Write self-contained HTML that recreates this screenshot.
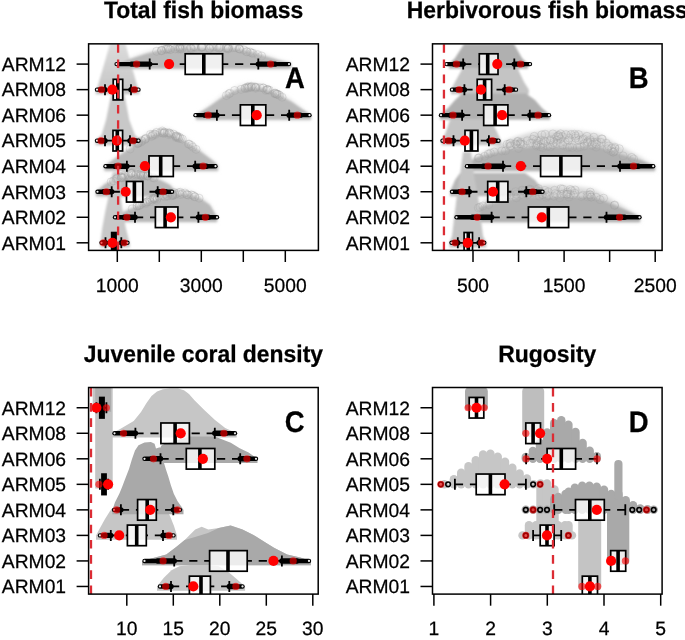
<!DOCTYPE html><html><head><meta charset="utf-8"><style>
html,body{margin:0;padding:0;background:#fff;width:685px;height:640px;overflow:hidden}
svg{display:block;will-change:transform}
text{font-family:"Liberation Sans",sans-serif;fill:#000;stroke:#000;stroke-width:0.25px;text-rendering:geometricPrecision}
.lab{font-size:19.3px}
.ttl{font-size:22.9px;font-weight:bold}
.let{font-size:27.5px;font-weight:bold}
</style></head><body>
<svg width="685" height="640" viewBox="0 0 685 640">
<defs><linearGradient id="gA8" gradientUnits="userSpaceOnUse" x1="0" y1="44" x2="0" y2="95"><stop offset="0" stop-color="#dcdcdc"/><stop offset="1" stop-color="#c4c4c4"/></linearGradient><filter id="blF" x="-20%" y="-20%" width="140%" height="140%"><feGaussianBlur stdDeviation="2.2"/></filter><filter id="blC" x="-20%" y="-20%" width="140%" height="140%"><feGaussianBlur stdDeviation="1.0"/></filter><filter id="blR" x="-20%" y="-20%" width="140%" height="140%"><feGaussianBlur stdDeviation="0.5"/></filter></defs>
<rect width="685" height="640" fill="#fff"/>
<clipPath id="clipA"><rect x="88.60" y="43.85" width="229.80" height="206.55"/></clipPath>
<g clip-path="url(#clipA)">
<g filter="url(#blF)">
<path d="M118.0,64.0 L122.3,62.0 L126.7,59.9 L131.0,57.9 L135.3,56.1 L139.6,54.4 L143.9,52.6 L148.3,51.0 L152.6,49.5 L156.9,48.0 L161.2,46.7 L165.6,45.8 L169.9,45.0 L174.2,44.2 L178.6,43.9 L182.9,43.7 L187.2,43.5 L191.5,43.4 L195.8,43.3 L200.2,43.2 L204.5,43.2 L208.8,43.2 L213.2,43.3 L217.5,43.4 L221.8,43.5 L226.1,43.7 L230.4,43.9 L234.8,44.1 L239.1,45.3 L243.4,46.6 L247.8,47.8 L252.1,49.3 L256.4,50.9 L260.7,52.6 L265.1,54.2 L269.4,55.9 L273.7,57.5 L278.0,59.2 L282.4,60.6 L286.7,61.8 L291.0,63.0 L291.0,68.9 L118.0,68.9 Z" fill="#e8e8e8"/>
<path d="M196.0,115.0 L198.9,113.0 L201.8,110.9 L204.6,108.9 L207.5,106.7 L210.4,104.6 L213.2,102.2 L216.1,99.9 L219.0,97.6 L221.9,95.2 L224.8,93.1 L227.6,91.4 L230.5,89.7 L233.4,88.1 L236.2,86.4 L239.1,85.4 L242.0,84.7 L244.9,84.0 L247.8,83.3 L250.6,83.1 L253.5,83.3 L256.4,83.6 L259.2,83.9 L262.1,84.2 L265.0,85.4 L267.9,86.6 L270.8,87.8 L273.6,89.1 L276.5,90.4 L279.4,92.0 L282.2,93.9 L285.1,95.8 L288.0,97.7 L290.9,99.6 L293.8,101.8 L296.6,104.1 L299.5,106.4 L302.4,108.6 L305.2,110.8 L308.1,112.9 L311.0,115.0 L311.0,120.0 L196.0,120.0 Z" fill="#e8e8e8"/>
<path d="M104.4,166.0 L107.2,163.8 L110.1,161.5 L112.9,159.2 L115.8,156.9 L118.6,154.6 L121.4,152.2 L124.3,150.0 L127.1,147.7 L130.0,145.5 L132.8,143.3 L135.6,141.1 L138.5,139.1 L141.3,137.1 L144.2,135.2 L147.0,133.3 L149.8,131.4 L152.7,130.2 L155.5,129.1 L158.4,128.1 L161.2,127.7 L164.0,128.1 L166.9,128.6 L169.7,129.1 L172.6,130.5 L175.4,132.0 L178.2,133.5 L181.1,135.1 L183.9,136.7 L186.8,138.7 L189.6,140.9 L192.4,143.1 L195.3,145.3 L198.1,147.6 L201.0,149.9 L203.8,152.4 L206.6,155.0 L209.5,157.4 L212.3,159.9 L215.2,162.6 L218.0,166.0 L218.0,171.0 L104.4,171.0 Z" fill="#e8e8e8"/>
<path d="M96.0,191.8 L98.0,189.9 L100.0,187.9 L102.0,185.8 L104.0,183.8 L106.0,182.1 L108.0,180.8 L110.0,179.5 L112.0,178.3 L114.0,177.0 L116.0,175.7 L118.0,174.5 L120.0,173.7 L122.0,172.9 L124.0,172.2 L126.0,171.5 L128.0,170.8 L130.0,170.2 L132.0,169.6 L134.0,169.7 L136.0,169.8 L138.0,170.0 L140.0,170.2 L142.0,170.4 L144.0,170.7 L146.0,171.3 L148.0,172.1 L150.0,172.9 L152.0,173.8 L154.0,174.7 L156.0,175.6 L158.0,176.5 L160.0,177.5 L162.0,178.8 L164.0,180.2 L166.0,181.6 L168.0,182.9 L170.0,184.2 L172.0,186.8 L174.0,189.4 L176.0,191.8 L176.0,196.6 L96.0,196.6 Z" fill="#e8e8e8"/>
<path d="M114.0,217.0 L116.6,215.5 L119.2,213.9 L121.7,212.2 L124.3,210.5 L126.9,208.8 L129.4,207.1 L132.0,205.6 L134.6,204.2 L137.2,202.7 L139.8,201.3 L142.3,199.9 L144.9,198.5 L147.5,197.3 L150.1,196.2 L152.6,195.0 L155.2,194.0 L157.8,193.0 L160.3,192.0 L162.9,191.3 L165.5,190.7 L168.1,190.1 L170.7,189.6 L173.2,189.1 L175.8,188.8 L178.4,189.0 L180.9,189.1 L183.5,189.3 L186.1,189.5 L188.7,190.0 L191.2,191.3 L193.8,192.5 L196.4,193.8 L199.0,195.1 L201.6,196.9 L204.1,199.2 L206.7,201.4 L209.3,203.6 L211.8,207.6 L214.4,212.4 L217.0,217.0 L217.0,222.1 L114.0,222.1 Z" fill="#e8e8e8"/>
</g><g filter="url(#blC)">
<path d="M95.5,94.0 L109.9,43.9 L125.5,43.9 L139.5,94.0 L139.5,94.2 L95.5,94.2 Z" fill="url(#gA8)"/>
<path d="M118.0,64.0 L130.0,59.0 L145.0,54.0 L160.0,50.0 L175.0,48.2 L235.0,48.2 L250.0,51.5 L265.0,56.0 L280.0,60.5 L291.0,63.0 L291.0,68.7 L118.0,68.7 Z" fill="#b9b9b9"/>
<path d="M95.5,140.0 L101.5,135.0 L106.0,120.0 L110.0,100.0 L113.0,88.0 L123.0,88.0 L125.5,100.0 L129.3,120.0 L135.0,135.0 L141.0,140.0 L141.0,145.3 L95.5,145.3 Z" fill="#c8c8c8"/>
<path d="M196.0,115.0 L210.0,106.0 L224.0,96.0 L237.0,89.5 L249.0,87.0 L262.0,88.0 L278.0,94.0 L292.0,102.0 L302.0,109.0 L311.0,115.0 L311.0,119.8 L196.0,119.8 Z" fill="#b9b9b9"/>
<path d="M104.4,166.0 L120.0,155.0 L135.0,145.0 L150.0,136.0 L160.0,132.5 L170.0,134.0 L185.0,141.0 L200.0,151.0 L214.5,162.0 L218.0,166.0 L218.0,170.8 L104.4,170.8 Z" fill="#b9b9b9"/>
<path d="M96.0,191.8 L105.0,184.0 L118.0,178.0 L132.0,174.5 L145.0,175.5 L160.0,180.0 L170.0,185.0 L176.0,191.8 L176.0,196.3 L96.0,196.3 Z" fill="#b9b9b9"/>
<path d="M114.0,217.0 L130.0,209.0 L145.0,203.0 L160.0,198.0 L175.0,194.5 L188.0,194.0 L200.0,198.0 L210.0,205.0 L217.0,217.0 L217.0,221.9 L114.0,221.9 Z" fill="#b9b9b9"/>
<path d="M100.2,244.0 L102.3,227.7 L105.3,211.3 L108.4,197.0 L111.0,180.0 L113.0,172.0 L119.0,172.0 L120.7,180.0 L120.7,197.0 L122.7,211.3 L125.8,227.7 L129.9,244.0 L129.9,247.4 L100.2,247.4 Z" fill="#c8c8c8"/>
</g>
<g fill="none" stroke="rgba(160,160,160,0.30)" stroke-width="1.0" filter="url(#blR)">
<circle cx="219.4" cy="47.8" r="4.0"/>
<circle cx="191.4" cy="48.8" r="4.0"/>
<circle cx="161.6" cy="50.8" r="4.0"/>
<circle cx="239.1" cy="48.7" r="4.0"/>
<circle cx="202.0" cy="46.9" r="4.0"/>
<circle cx="261.7" cy="56.0" r="4.0"/>
<circle cx="169.7" cy="49.5" r="4.0"/>
<circle cx="236.1" cy="47.6" r="4.0"/>
<circle cx="170.5" cy="49.6" r="4.0"/>
<circle cx="239.8" cy="49.2" r="4.0"/>
<circle cx="168.3" cy="48.8" r="4.0"/>
<circle cx="166.6" cy="49.3" r="4.0"/>
<circle cx="209.6" cy="48.2" r="4.0"/>
<circle cx="190.9" cy="47.5" r="4.0"/>
<circle cx="228.1" cy="48.8" r="4.0"/>
<circle cx="213.3" cy="46.8" r="4.0"/>
<circle cx="226.1" cy="48.0" r="4.0"/>
<circle cx="239.3" cy="48.8" r="4.0"/>
<circle cx="180.5" cy="47.3" r="4.0"/>
<circle cx="243.6" cy="49.8" r="4.0"/>
<circle cx="166.3" cy="49.0" r="4.0"/>
<circle cx="251.6" cy="53.0" r="4.0"/>
<circle cx="257.8" cy="54.7" r="4.0"/>
<circle cx="182.6" cy="47.3" r="4.0"/>
<circle cx="232.6" cy="47.6" r="4.0"/>
<circle cx="179.5" cy="47.0" r="4.0"/>
<circle cx="186.8" cy="48.7" r="4.0"/>
<circle cx="247.2" cy="51.8" r="4.0"/>
<circle cx="201.6" cy="47.0" r="4.0"/>
<circle cx="156.6" cy="51.3" r="4.0"/>
<circle cx="175.4" cy="49.0" r="4.0"/>
<circle cx="226.9" cy="48.2" r="4.0"/>
<circle cx="246.4" cy="51.7" r="4.0"/>
<circle cx="216.9" cy="47.1" r="4.0"/>
<circle cx="201.4" cy="47.4" r="4.0"/>
<circle cx="202.4" cy="46.8" r="4.0"/>
<circle cx="178.1" cy="49.1" r="4.0"/>
<circle cx="181.9" cy="49.0" r="4.0"/>
<circle cx="190.3" cy="48.4" r="4.0"/>
<circle cx="164.7" cy="49.4" r="4.0"/>
<circle cx="228.4" cy="47.8" r="4.0"/>
<circle cx="180.1" cy="49.1" r="4.0"/>
<circle cx="193.7" cy="46.9" r="4.0"/>
<circle cx="211.0" cy="46.5" r="4.0"/>
<circle cx="228.2" cy="48.7" r="4.0"/>
<circle cx="177.7" cy="47.2" r="4.0"/>
<circle cx="179.7" cy="47.8" r="4.0"/>
<circle cx="220.3" cy="47.2" r="4.0"/>
<circle cx="168.2" cy="48.7" r="4.0"/>
<circle cx="180.1" cy="48.6" r="4.0"/>
<circle cx="249.9" cy="52.0" r="4.0"/>
<circle cx="161.5" cy="50.2" r="4.0"/>
<circle cx="161.5" cy="50.7" r="4.0"/>
<circle cx="195.6" cy="47.3" r="4.0"/>
<circle cx="218.8" cy="48.0" r="4.0"/>
<circle cx="209.3" cy="48.8" r="4.0"/>
<circle cx="194.2" cy="46.6" r="4.0"/>
<circle cx="253.0" cy="53.3" r="4.0"/>
<circle cx="234.7" cy="47.7" r="4.0"/>
<circle cx="275.2" cy="93.6" r="4.0"/>
<circle cx="247.9" cy="88.2" r="4.0"/>
<circle cx="248.9" cy="86.7" r="4.0"/>
<circle cx="260.0" cy="87.7" r="4.0"/>
<circle cx="277.3" cy="94.1" r="4.0"/>
<circle cx="245.1" cy="88.6" r="4.0"/>
<circle cx="255.4" cy="88.3" r="4.0"/>
<circle cx="255.5" cy="87.2" r="4.0"/>
<circle cx="226.4" cy="95.5" r="4.0"/>
<circle cx="275.0" cy="93.0" r="4.0"/>
<circle cx="254.8" cy="87.0" r="4.0"/>
<circle cx="230.0" cy="93.2" r="4.0"/>
<circle cx="279.7" cy="95.5" r="4.0"/>
<circle cx="245.0" cy="88.0" r="4.0"/>
<circle cx="246.6" cy="87.9" r="4.0"/>
<circle cx="228.9" cy="93.8" r="4.0"/>
<circle cx="274.6" cy="93.5" r="4.0"/>
<circle cx="251.8" cy="86.3" r="4.0"/>
<circle cx="250.9" cy="87.2" r="4.0"/>
<circle cx="262.9" cy="87.9" r="4.0"/>
<circle cx="268.0" cy="89.8" r="4.0"/>
<circle cx="241.0" cy="89.4" r="4.0"/>
<circle cx="267.1" cy="89.4" r="4.0"/>
<circle cx="263.4" cy="88.0" r="4.0"/>
<circle cx="265.9" cy="90.4" r="4.0"/>
<circle cx="247.4" cy="86.9" r="4.0"/>
<circle cx="267.2" cy="89.7" r="4.0"/>
<circle cx="276.7" cy="94.3" r="4.0"/>
<circle cx="256.2" cy="87.3" r="4.0"/>
<circle cx="269.3" cy="90.2" r="4.0"/>
<circle cx="249.0" cy="87.4" r="4.0"/>
<circle cx="278.6" cy="94.7" r="4.0"/>
<circle cx="276.6" cy="93.9" r="4.0"/>
<circle cx="282.1" cy="97.2" r="4.0"/>
<circle cx="251.2" cy="87.0" r="4.0"/>
<circle cx="234.6" cy="90.5" r="4.0"/>
<circle cx="138.0" cy="143.3" r="4.0"/>
<circle cx="179.3" cy="137.2" r="4.0"/>
<circle cx="152.6" cy="135.8" r="4.0"/>
<circle cx="154.6" cy="134.0" r="4.0"/>
<circle cx="188.4" cy="144.1" r="4.0"/>
<circle cx="141.5" cy="140.6" r="4.0"/>
<circle cx="175.6" cy="136.0" r="4.0"/>
<circle cx="173.5" cy="134.1" r="4.0"/>
<circle cx="151.2" cy="136.5" r="4.0"/>
<circle cx="168.4" cy="134.5" r="4.0"/>
<circle cx="152.7" cy="134.6" r="4.0"/>
<circle cx="156.5" cy="132.4" r="4.0"/>
<circle cx="138.7" cy="142.9" r="4.0"/>
<circle cx="191.4" cy="145.5" r="4.0"/>
<circle cx="177.4" cy="136.7" r="4.0"/>
<circle cx="169.5" cy="133.0" r="4.0"/>
<circle cx="155.4" cy="134.5" r="4.0"/>
<circle cx="177.6" cy="137.3" r="4.0"/>
<circle cx="160.2" cy="132.6" r="4.0"/>
<circle cx="164.0" cy="132.1" r="4.0"/>
<circle cx="189.3" cy="144.2" r="4.0"/>
<circle cx="150.4" cy="134.4" r="4.0"/>
<circle cx="130.1" cy="149.0" r="4.0"/>
<circle cx="196.1" cy="149.4" r="4.0"/>
<circle cx="175.9" cy="136.4" r="4.0"/>
<circle cx="164.8" cy="132.5" r="4.0"/>
<circle cx="170.7" cy="134.3" r="4.0"/>
<circle cx="180.4" cy="138.4" r="4.0"/>
<circle cx="137.7" cy="143.3" r="4.0"/>
<circle cx="164.2" cy="133.2" r="4.0"/>
<circle cx="176.8" cy="135.9" r="4.0"/>
<circle cx="141.8" cy="141.4" r="4.0"/>
<circle cx="145.9" cy="138.3" r="4.0"/>
<circle cx="163.3" cy="133.3" r="4.0"/>
<circle cx="137.1" cy="143.8" r="4.0"/>
<circle cx="192.9" cy="147.2" r="4.0"/>
<circle cx="138.6" cy="142.2" r="4.0"/>
<circle cx="182.3" cy="139.0" r="4.0"/>
<circle cx="162.3" cy="131.0" r="4.0"/>
<circle cx="144.9" cy="139.6" r="4.0"/>
<circle cx="178.4" cy="138.4" r="4.0"/>
<circle cx="145.3" cy="138.9" r="4.0"/>
<circle cx="167.5" cy="132.9" r="4.0"/>
<circle cx="169.2" cy="133.0" r="4.0"/>
<circle cx="140.6" cy="142.3" r="4.0"/>
<circle cx="162.3" cy="132.8" r="4.0"/>
<circle cx="176.1" cy="137.6" r="4.0"/>
<circle cx="111.1" cy="181.9" r="4.0"/>
<circle cx="147.9" cy="175.9" r="4.0"/>
<circle cx="113.5" cy="180.9" r="4.0"/>
<circle cx="147.3" cy="175.9" r="4.0"/>
<circle cx="152.9" cy="177.7" r="4.0"/>
<circle cx="142.8" cy="175.6" r="4.0"/>
<circle cx="131.3" cy="173.1" r="4.0"/>
<circle cx="121.2" cy="178.0" r="4.0"/>
<circle cx="117.3" cy="178.4" r="4.0"/>
<circle cx="124.2" cy="177.1" r="4.0"/>
<circle cx="135.9" cy="175.2" r="4.0"/>
<circle cx="128.1" cy="175.5" r="4.0"/>
<circle cx="140.3" cy="175.4" r="4.0"/>
<circle cx="136.0" cy="174.0" r="4.0"/>
<circle cx="116.1" cy="178.8" r="4.0"/>
<circle cx="141.3" cy="175.3" r="4.0"/>
<circle cx="140.7" cy="174.3" r="4.0"/>
<circle cx="122.4" cy="177.7" r="4.0"/>
<circle cx="143.7" cy="176.4" r="4.0"/>
<circle cx="138.1" cy="174.6" r="4.0"/>
<circle cx="141.2" cy="175.5" r="4.0"/>
<circle cx="154.2" cy="178.1" r="4.0"/>
<circle cx="140.8" cy="173.4" r="4.0"/>
<circle cx="132.5" cy="172.9" r="4.0"/>
<circle cx="144.1" cy="174.2" r="4.0"/>
<circle cx="122.9" cy="177.7" r="4.0"/>
<circle cx="121.5" cy="177.3" r="4.0"/>
<circle cx="122.7" cy="175.8" r="4.0"/>
<circle cx="131.1" cy="173.5" r="4.0"/>
<circle cx="147.6" cy="176.2" r="4.0"/>
<circle cx="147.8" cy="175.4" r="4.0"/>
<circle cx="132.5" cy="175.2" r="4.0"/>
<circle cx="125.2" cy="175.4" r="4.0"/>
<circle cx="131.2" cy="173.4" r="4.0"/>
<circle cx="143.2" cy="175.6" r="4.0"/>
<circle cx="121.5" cy="177.8" r="4.0"/>
<circle cx="121.6" cy="176.9" r="4.0"/>
<circle cx="145.8" cy="175.8" r="4.0"/>
<circle cx="139.0" cy="205.8" r="4.0"/>
<circle cx="154.7" cy="199.4" r="4.0"/>
<circle cx="145.0" cy="202.6" r="4.0"/>
<circle cx="172.4" cy="194.2" r="4.0"/>
<circle cx="132.2" cy="208.8" r="4.0"/>
<circle cx="173.3" cy="194.3" r="4.0"/>
<circle cx="137.2" cy="205.7" r="4.0"/>
<circle cx="180.3" cy="192.3" r="4.0"/>
<circle cx="158.6" cy="196.0" r="4.0"/>
<circle cx="140.6" cy="204.6" r="4.0"/>
<circle cx="152.4" cy="199.8" r="4.0"/>
<circle cx="167.2" cy="196.3" r="4.0"/>
<circle cx="142.4" cy="203.2" r="4.0"/>
<circle cx="137.1" cy="206.1" r="4.0"/>
<circle cx="139.4" cy="205.3" r="4.0"/>
<circle cx="147.6" cy="201.9" r="4.0"/>
<circle cx="164.7" cy="196.7" r="4.0"/>
<circle cx="162.9" cy="195.8" r="4.0"/>
<circle cx="169.8" cy="192.8" r="4.0"/>
<circle cx="182.5" cy="194.0" r="4.0"/>
<circle cx="155.5" cy="197.8" r="4.0"/>
<circle cx="153.4" cy="198.2" r="4.0"/>
<circle cx="154.4" cy="198.8" r="4.0"/>
<circle cx="176.7" cy="193.7" r="4.0"/>
<circle cx="194.9" cy="196.8" r="4.0"/>
<circle cx="167.3" cy="195.7" r="4.0"/>
<circle cx="165.1" cy="194.0" r="4.0"/>
<circle cx="191.4" cy="194.9" r="4.0"/>
<circle cx="150.3" cy="201.7" r="4.0"/>
<circle cx="156.6" cy="200.1" r="4.0"/>
<circle cx="172.9" cy="195.4" r="4.0"/>
<circle cx="145.9" cy="203.6" r="4.0"/>
<circle cx="172.5" cy="195.1" r="4.0"/>
<circle cx="185.0" cy="193.0" r="4.0"/>
<circle cx="146.8" cy="202.0" r="4.0"/>
<circle cx="174.2" cy="192.4" r="4.0"/>
<circle cx="172.7" cy="195.5" r="4.0"/>
<circle cx="188.5" cy="195.2" r="4.0"/>
<circle cx="171.4" cy="195.8" r="4.0"/>
<circle cx="174.8" cy="194.9" r="4.0"/>
<circle cx="194.6" cy="196.7" r="4.0"/>
<circle cx="186.6" cy="194.6" r="4.0"/>
<circle cx="149.7" cy="200.1" r="4.0"/>
<circle cx="178.8" cy="192.7" r="4.0"/>
<circle cx="153.0" cy="198.4" r="4.0"/>
<circle cx="157.2" cy="198.5" r="4.0"/>
<circle cx="180.1" cy="194.6" r="4.0"/>
<circle cx="193.0" cy="195.4" r="4.0"/>
<circle cx="175.1" cy="193.9" r="4.0"/>
<circle cx="187.1" cy="194.7" r="4.0"/>
<circle cx="154.2" cy="198.2" r="4.0"/>
<circle cx="199.1" cy="198.2" r="4.0"/>
</g>
<line x1="149.7" y1="64.10" x2="185.2" y2="64.10" stroke="#000" stroke-width="1.8" stroke-dasharray="8.2 6.8"/>
<line x1="149.7" y1="58.60" x2="149.7" y2="69.60" stroke="#000" stroke-width="1.8"/>
<line x1="258.3" y1="64.10" x2="222.6" y2="64.10" stroke="#000" stroke-width="1.8" stroke-dasharray="8.2 6.8"/>
<line x1="258.3" y1="58.60" x2="258.3" y2="69.60" stroke="#000" stroke-width="1.8"/>
<line x1="131.5" y1="64.10" x2="149.7" y2="64.10" stroke="#000" stroke-width="5.4" stroke-linecap="round"/>
<line x1="116.6" y1="64.10" x2="131.5" y2="64.10" stroke="#000" stroke-width="4.4" stroke-linecap="round"/>
<circle cx="116.6" cy="64.10" r="1.1" fill="#eee"/>
<line x1="275.2" y1="64.10" x2="258.3" y2="64.10" stroke="#000" stroke-width="5.4" stroke-linecap="round"/>
<line x1="289.0" y1="64.10" x2="275.2" y2="64.10" stroke="#000" stroke-width="4.4" stroke-linecap="round"/>
<circle cx="289.0" cy="64.10" r="1.1" fill="#eee"/>
<rect x="185.2" y="53.80" width="37.4" height="20.60" fill="rgba(255,255,255,0.78)" stroke="#000" stroke-width="1.7"/>
<line x1="203.8" y1="53.80" x2="203.8" y2="74.40" stroke="#000" stroke-width="3.6"/>
<circle cx="136.6" cy="64.10" r="3.6" fill="rgba(255,0,0,0.62)"/>
<circle cx="270.6" cy="64.10" r="3.6" fill="rgba(255,0,0,0.62)"/>
<circle cx="169.1" cy="64.10" r="5.1" fill="#ff0000"/>
<line x1="105.0" y1="89.63" x2="113.2" y2="89.63" stroke="#000" stroke-width="1.8" stroke-dasharray="8.2 6.8"/>
<line x1="105.0" y1="84.13" x2="105.0" y2="95.13" stroke="#000" stroke-width="1.8"/>
<line x1="131.0" y1="89.63" x2="122.7" y2="89.63" stroke="#000" stroke-width="1.8" stroke-dasharray="8.2 6.8"/>
<line x1="131.0" y1="84.13" x2="131.0" y2="95.13" stroke="#000" stroke-width="1.8"/>
<line x1="100.6" y1="89.63" x2="105.0" y2="89.63" stroke="#000" stroke-width="5.4" stroke-linecap="round"/>
<line x1="97.0" y1="89.63" x2="100.6" y2="89.63" stroke="#000" stroke-width="4.4" stroke-linecap="round"/>
<circle cx="97.0" cy="89.63" r="1.1" fill="#eee"/>
<line x1="135.1" y1="89.63" x2="131.0" y2="89.63" stroke="#000" stroke-width="5.4" stroke-linecap="round"/>
<line x1="138.5" y1="89.63" x2="135.1" y2="89.63" stroke="#000" stroke-width="4.4" stroke-linecap="round"/>
<circle cx="138.5" cy="89.63" r="1.1" fill="#eee"/>
<rect x="113.2" y="79.33" width="9.5" height="20.60" fill="rgba(255,255,255,0.78)" stroke="#000" stroke-width="1.7"/>
<line x1="117.8" y1="79.33" x2="117.8" y2="99.93" stroke="#000" stroke-width="3.6"/>
<circle cx="101.5" cy="89.63" r="3.6" fill="rgba(255,0,0,0.62)"/>
<circle cx="134.3" cy="89.63" r="3.6" fill="rgba(255,0,0,0.62)"/>
<circle cx="112.4" cy="89.63" r="5.1" fill="#ff0000"/>
<line x1="216.9" y1="115.16" x2="240.4" y2="115.16" stroke="#000" stroke-width="1.8" stroke-dasharray="8.2 6.8"/>
<line x1="216.9" y1="109.66" x2="216.9" y2="120.66" stroke="#000" stroke-width="1.8"/>
<line x1="289.2" y1="115.16" x2="265.8" y2="115.16" stroke="#000" stroke-width="1.8" stroke-dasharray="8.2 6.8"/>
<line x1="289.2" y1="109.66" x2="289.2" y2="120.66" stroke="#000" stroke-width="1.8"/>
<line x1="205.1" y1="115.16" x2="216.9" y2="115.16" stroke="#000" stroke-width="5.4" stroke-linecap="round"/>
<line x1="195.5" y1="115.16" x2="205.1" y2="115.16" stroke="#000" stroke-width="4.4" stroke-linecap="round"/>
<circle cx="195.5" cy="115.16" r="1.1" fill="#eee"/>
<line x1="300.4" y1="115.16" x2="289.2" y2="115.16" stroke="#000" stroke-width="5.4" stroke-linecap="round"/>
<line x1="309.5" y1="115.16" x2="300.4" y2="115.16" stroke="#000" stroke-width="4.4" stroke-linecap="round"/>
<circle cx="309.5" cy="115.16" r="1.1" fill="#eee"/>
<rect x="240.4" y="104.86" width="25.4" height="20.60" fill="rgba(255,255,255,0.78)" stroke="#000" stroke-width="1.7"/>
<line x1="252.8" y1="104.86" x2="252.8" y2="125.46" stroke="#000" stroke-width="3.6"/>
<circle cx="208.2" cy="115.16" r="3.6" fill="rgba(255,0,0,0.62)"/>
<circle cx="297.3" cy="115.16" r="3.6" fill="rgba(255,0,0,0.62)"/>
<circle cx="256.7" cy="115.16" r="5.1" fill="#ff0000"/>
<line x1="105.0" y1="140.69" x2="113.0" y2="140.69" stroke="#000" stroke-width="1.8" stroke-dasharray="8.2 6.8"/>
<line x1="105.0" y1="135.19" x2="105.0" y2="146.19" stroke="#000" stroke-width="1.8"/>
<line x1="130.0" y1="140.69" x2="122.6" y2="140.69" stroke="#000" stroke-width="1.8" stroke-dasharray="8.2 6.8"/>
<line x1="130.0" y1="135.19" x2="130.0" y2="146.19" stroke="#000" stroke-width="1.8"/>
<line x1="100.6" y1="140.69" x2="105.0" y2="140.69" stroke="#000" stroke-width="5.4" stroke-linecap="round"/>
<line x1="97.0" y1="140.69" x2="100.6" y2="140.69" stroke="#000" stroke-width="4.4" stroke-linecap="round"/>
<circle cx="97.0" cy="140.69" r="1.1" fill="#eee"/>
<line x1="134.7" y1="140.69" x2="130.0" y2="140.69" stroke="#000" stroke-width="5.4" stroke-linecap="round"/>
<line x1="138.5" y1="140.69" x2="134.7" y2="140.69" stroke="#000" stroke-width="4.4" stroke-linecap="round"/>
<circle cx="138.5" cy="140.69" r="1.1" fill="#eee"/>
<rect x="113.0" y="130.39" width="9.6" height="20.60" fill="rgba(255,255,255,0.78)" stroke="#000" stroke-width="1.7"/>
<line x1="117.3" y1="130.39" x2="117.3" y2="150.99" stroke="#000" stroke-width="3.6"/>
<circle cx="101.0" cy="140.69" r="3.6" fill="rgba(255,0,0,0.62)"/>
<circle cx="133.0" cy="140.69" r="3.6" fill="rgba(255,0,0,0.62)"/>
<circle cx="116.9" cy="140.69" r="5.1" fill="#ff0000"/>
<line x1="126.9" y1="166.22" x2="149.0" y2="166.22" stroke="#000" stroke-width="1.8" stroke-dasharray="8.2 6.8"/>
<line x1="126.9" y1="160.72" x2="126.9" y2="171.72" stroke="#000" stroke-width="1.8"/>
<line x1="195.2" y1="166.22" x2="173.3" y2="166.22" stroke="#000" stroke-width="1.8" stroke-dasharray="8.2 6.8"/>
<line x1="195.2" y1="160.72" x2="195.2" y2="171.72" stroke="#000" stroke-width="1.8"/>
<line x1="115.1" y1="166.22" x2="126.9" y2="166.22" stroke="#000" stroke-width="5.4" stroke-linecap="round"/>
<line x1="105.5" y1="166.22" x2="115.1" y2="166.22" stroke="#000" stroke-width="4.4" stroke-linecap="round"/>
<circle cx="105.5" cy="166.22" r="1.1" fill="#eee"/>
<line x1="206.4" y1="166.22" x2="195.2" y2="166.22" stroke="#000" stroke-width="5.4" stroke-linecap="round"/>
<line x1="215.5" y1="166.22" x2="206.4" y2="166.22" stroke="#000" stroke-width="4.4" stroke-linecap="round"/>
<circle cx="215.5" cy="166.22" r="1.1" fill="#eee"/>
<rect x="149.0" y="155.92" width="24.3" height="20.60" fill="rgba(255,255,255,0.78)" stroke="#000" stroke-width="1.7"/>
<line x1="160.7" y1="155.92" x2="160.7" y2="176.52" stroke="#000" stroke-width="3.6"/>
<circle cx="118.1" cy="166.22" r="3.6" fill="rgba(255,0,0,0.62)"/>
<circle cx="203.1" cy="166.22" r="3.6" fill="rgba(255,0,0,0.62)"/>
<circle cx="144.9" cy="166.22" r="5.1" fill="#ff0000"/>
<line x1="111.7" y1="191.75" x2="126.5" y2="191.75" stroke="#000" stroke-width="1.8" stroke-dasharray="8.2 6.8"/>
<line x1="111.7" y1="186.25" x2="111.7" y2="197.25" stroke="#000" stroke-width="1.8"/>
<line x1="157.7" y1="191.75" x2="142.8" y2="191.75" stroke="#000" stroke-width="1.8" stroke-dasharray="8.2 6.8"/>
<line x1="157.7" y1="186.25" x2="157.7" y2="197.25" stroke="#000" stroke-width="1.8"/>
<line x1="103.9" y1="191.75" x2="111.7" y2="191.75" stroke="#000" stroke-width="5.4" stroke-linecap="round"/>
<line x1="97.5" y1="191.75" x2="103.9" y2="191.75" stroke="#000" stroke-width="4.4" stroke-linecap="round"/>
<circle cx="97.5" cy="191.75" r="1.1" fill="#eee"/>
<line x1="165.6" y1="191.75" x2="157.7" y2="191.75" stroke="#000" stroke-width="5.4" stroke-linecap="round"/>
<line x1="172.0" y1="191.75" x2="165.6" y2="191.75" stroke="#000" stroke-width="4.4" stroke-linecap="round"/>
<circle cx="172.0" cy="191.75" r="1.1" fill="#eee"/>
<rect x="126.5" y="181.45" width="16.3" height="20.60" fill="rgba(255,255,255,0.78)" stroke="#000" stroke-width="1.7"/>
<line x1="134.4" y1="181.45" x2="134.4" y2="202.05" stroke="#000" stroke-width="3.6"/>
<circle cx="106.4" cy="191.75" r="3.6" fill="rgba(255,0,0,0.62)"/>
<circle cx="163.0" cy="191.75" r="3.6" fill="rgba(255,0,0,0.62)"/>
<circle cx="125.7" cy="191.75" r="5.1" fill="#ff0000"/>
<line x1="135.0" y1="217.28" x2="155.4" y2="217.28" stroke="#000" stroke-width="1.8" stroke-dasharray="8.2 6.8"/>
<line x1="135.0" y1="211.78" x2="135.0" y2="222.78" stroke="#000" stroke-width="1.8"/>
<line x1="198.4" y1="217.28" x2="177.9" y2="217.28" stroke="#000" stroke-width="1.8" stroke-dasharray="8.2 6.8"/>
<line x1="198.4" y1="211.78" x2="198.4" y2="222.78" stroke="#000" stroke-width="1.8"/>
<line x1="124.0" y1="217.28" x2="135.0" y2="217.28" stroke="#000" stroke-width="5.4" stroke-linecap="round"/>
<line x1="115.0" y1="217.28" x2="124.0" y2="217.28" stroke="#000" stroke-width="4.4" stroke-linecap="round"/>
<circle cx="115.0" cy="217.28" r="1.1" fill="#eee"/>
<line x1="208.6" y1="217.28" x2="198.4" y2="217.28" stroke="#000" stroke-width="5.4" stroke-linecap="round"/>
<line x1="217.0" y1="217.28" x2="208.6" y2="217.28" stroke="#000" stroke-width="4.4" stroke-linecap="round"/>
<circle cx="217.0" cy="217.28" r="1.1" fill="#eee"/>
<rect x="155.4" y="206.98" width="22.5" height="20.60" fill="rgba(255,255,255,0.78)" stroke="#000" stroke-width="1.7"/>
<line x1="165.1" y1="206.98" x2="165.1" y2="227.58" stroke="#000" stroke-width="3.6"/>
<circle cx="126.9" cy="217.28" r="3.6" fill="rgba(255,0,0,0.62)"/>
<circle cx="205.4" cy="217.28" r="3.6" fill="rgba(255,0,0,0.62)"/>
<circle cx="170.9" cy="217.28" r="5.1" fill="#ff0000"/>
<line x1="105.5" y1="242.81" x2="110.8" y2="242.81" stroke="#000" stroke-width="1.8" stroke-dasharray="8.2 6.8"/>
<line x1="105.5" y1="237.31" x2="105.5" y2="248.31" stroke="#000" stroke-width="1.8"/>
<line x1="121.3" y1="242.81" x2="116.9" y2="242.81" stroke="#000" stroke-width="1.8" stroke-dasharray="8.2 6.8"/>
<line x1="121.3" y1="237.31" x2="121.3" y2="248.31" stroke="#000" stroke-width="1.8"/>
<line x1="103.3" y1="242.81" x2="105.5" y2="242.81" stroke="#000" stroke-width="5.4" stroke-linecap="round"/>
<line x1="101.5" y1="242.81" x2="103.3" y2="242.81" stroke="#000" stroke-width="4.4" stroke-linecap="round"/>
<circle cx="101.5" cy="242.81" r="1.1" fill="#eee"/>
<line x1="124.7" y1="242.81" x2="121.3" y2="242.81" stroke="#000" stroke-width="5.4" stroke-linecap="round"/>
<line x1="127.5" y1="242.81" x2="124.7" y2="242.81" stroke="#000" stroke-width="4.4" stroke-linecap="round"/>
<circle cx="127.5" cy="242.81" r="1.1" fill="#eee"/>
<rect x="110.8" y="231.71" width="6.1" height="22.20" fill="#000"/>
<circle cx="103.4" cy="242.81" r="3.6" fill="rgba(255,0,0,0.62)"/>
<circle cx="124.3" cy="242.81" r="3.6" fill="rgba(255,0,0,0.62)"/>
<circle cx="112.5" cy="242.81" r="5.1" fill="#ff0000"/>
<line x1="118.10" y1="250.40" x2="118.10" y2="43.85" stroke="#dc2c34" stroke-width="2.3" stroke-dasharray="8.6 6.6"/>
</g>
<rect x="88.60" y="43.85" width="229.80" height="206.55" fill="none" stroke="#000" stroke-width="1.5"/>
<line x1="76.60" y1="64.10" x2="88.60" y2="64.10" stroke="#000" stroke-width="1.5"/>
<text x="66.10" y="70.90" text-anchor="end" class="lab">ARM12</text>
<line x1="76.60" y1="89.63" x2="88.60" y2="89.63" stroke="#000" stroke-width="1.5"/>
<text x="66.10" y="96.43" text-anchor="end" class="lab">ARM08</text>
<line x1="76.60" y1="115.16" x2="88.60" y2="115.16" stroke="#000" stroke-width="1.5"/>
<text x="66.10" y="121.96" text-anchor="end" class="lab">ARM06</text>
<line x1="76.60" y1="140.69" x2="88.60" y2="140.69" stroke="#000" stroke-width="1.5"/>
<text x="66.10" y="147.49" text-anchor="end" class="lab">ARM05</text>
<line x1="76.60" y1="166.22" x2="88.60" y2="166.22" stroke="#000" stroke-width="1.5"/>
<text x="66.10" y="173.02" text-anchor="end" class="lab">ARM04</text>
<line x1="76.60" y1="191.75" x2="88.60" y2="191.75" stroke="#000" stroke-width="1.5"/>
<text x="66.10" y="198.55" text-anchor="end" class="lab">ARM03</text>
<line x1="76.60" y1="217.28" x2="88.60" y2="217.28" stroke="#000" stroke-width="1.5"/>
<text x="66.10" y="224.08" text-anchor="end" class="lab">ARM02</text>
<line x1="76.60" y1="242.81" x2="88.60" y2="242.81" stroke="#000" stroke-width="1.5"/>
<text x="66.10" y="249.61" text-anchor="end" class="lab">ARM01</text>
<line x1="117.30" y1="250.40" x2="117.30" y2="262.00" stroke="#000" stroke-width="1.5"/>
<text x="117.30" y="291.70" text-anchor="middle" class="lab">1000</text>
<line x1="159.30" y1="250.40" x2="159.30" y2="262.00" stroke="#000" stroke-width="1.5"/>
<line x1="201.30" y1="250.40" x2="201.30" y2="262.00" stroke="#000" stroke-width="1.5"/>
<text x="201.30" y="291.70" text-anchor="middle" class="lab">3000</text>
<line x1="243.30" y1="250.40" x2="243.30" y2="262.00" stroke="#000" stroke-width="1.5"/>
<line x1="285.30" y1="250.40" x2="285.30" y2="262.00" stroke="#000" stroke-width="1.5"/>
<text x="285.30" y="291.70" text-anchor="middle" class="lab">5000</text>
<text transform="translate(203.50,18.10) scale(1,1.04)" text-anchor="middle" class="ttl">Total fish biomass</text>
<text transform="translate(304.90,88.15) scale(1,1.08)" text-anchor="end" class="let">A</text>
<clipPath id="clipB"><rect x="432.50" y="43.85" width="229.60" height="206.55"/></clipPath>
<g clip-path="url(#clipB)">
<g filter="url(#blF)">
<path d="M466.0,166.0 L470.7,161.2 L475.4,156.4 L480.2,154.1 L484.9,151.7 L489.6,149.2 L494.4,146.9 L499.1,144.6 L503.8,142.3 L508.5,140.1 L513.2,138.0 L518.0,136.4 L522.7,134.9 L527.4,133.5 L532.1,132.4 L536.9,131.7 L541.6,131.1 L546.3,130.6 L551.0,130.3 L555.8,130.1 L560.5,130.0 L565.2,130.1 L570.0,130.3 L574.7,130.6 L579.4,131.1 L584.1,131.7 L588.9,132.4 L593.6,133.2 L598.3,134.1 L603.0,136.2 L607.8,138.9 L612.5,141.7 L617.2,144.5 L621.9,147.3 L626.6,149.9 L631.4,152.5 L636.1,155.1 L640.8,157.8 L645.5,160.7 L650.3,163.5 L655.0,166.0 L655.0,171.0 L466.0,171.0 Z" fill="#d6d6d6"/>
<path d="M456.0,217.0 L460.6,214.3 L465.2,211.3 L469.8,208.3 L474.4,206.1 L479.0,203.9 L483.6,201.6 L488.2,199.4 L492.8,197.3 L497.4,195.4 L502.0,193.6 L506.6,191.7 L511.2,189.9 L515.8,188.2 L520.4,186.7 L525.0,186.2 L529.6,185.8 L534.2,185.4 L538.8,185.2 L543.4,185.0 L548.0,185.0 L552.6,185.0 L557.2,185.2 L561.8,185.4 L566.4,185.8 L571.0,186.2 L575.6,186.7 L580.2,187.2 L584.8,187.9 L589.4,188.6 L594.0,189.4 L598.6,191.9 L603.2,194.6 L607.8,197.2 L612.4,199.9 L617.0,202.8 L621.6,205.7 L626.2,208.5 L630.8,211.3 L635.4,214.3 L640.0,217.0 L640.0,222.1 L456.0,222.1 Z" fill="#d6d6d6"/>
</g><g filter="url(#blC)">
<path d="M449.0,64.0 L455.0,58.0 L464.0,43.9 L514.0,43.9 L522.0,58.0 L528.0,64.0 L528.0,68.7 L449.0,68.7 Z" fill="#b0b0b0"/>
<path d="M451.0,89.6 L455.0,82.0 L460.5,72.0 L462.5,68.2 L517.8,68.2 L519.3,72.0 L524.0,82.0 L528.8,89.6 L528.8,94.2 L451.0,94.2 Z" fill="#c4c4c4"/>
<path d="M440.0,115.0 L448.0,108.0 L455.0,100.0 L462.0,93.6 L526.0,93.6 L535.0,100.0 L542.0,108.0 L550.0,115.0 L550.0,119.8 L440.0,119.8 Z" fill="#b0b0b0"/>
<path d="M441.6,140.7 L446.0,132.0 L449.4,121.2 L452.0,119.0 L489.0,119.0 L491.6,121.2 L497.0,132.0 L501.0,140.7 L501.0,145.3 L441.6,145.3 Z" fill="#c4c4c4"/>
<path d="M466.0,166.0 L475.0,158.0 L490.0,154.0 L512.0,149.0 L530.0,147.0 L600.0,147.0 L620.0,154.0 L640.0,160.0 L655.0,166.0 L655.0,170.8 L466.0,170.8 Z" fill="#b0b0b0"/>
<path d="M450.0,191.8 L455.0,180.0 L460.0,173.0 L525.0,173.0 L535.0,180.0 L544.0,191.8 L544.0,196.3 L450.0,196.3 Z" fill="#b8b8b8"/>
<path d="M456.0,217.0 L470.0,210.0 L490.0,204.0 L520.0,197.0 L594.0,197.0 L612.0,204.0 L630.0,212.0 L640.0,217.0 L640.0,221.9 L456.0,221.9 Z" fill="#b0b0b0"/>
<path d="M449.5,242.8 L452.0,236.0 L456.5,198.6 L460.0,175.0 L463.0,152.0 L471.0,152.0 L474.0,175.0 L478.4,198.6 L483.0,236.0 L486.3,242.8 L486.3,247.4 L449.5,247.4 Z" fill="#c4c4c4"/>
</g>
<g fill="none" stroke="rgba(160,160,160,0.30)" stroke-width="1.0" filter="url(#blR)">
<circle cx="569.3" cy="138.1" r="4.0"/>
<circle cx="592.1" cy="145.3" r="4.0"/>
<circle cx="596.5" cy="144.3" r="4.0"/>
<circle cx="614.8" cy="147.2" r="4.0"/>
<circle cx="613.4" cy="152.2" r="4.0"/>
<circle cx="578.6" cy="134.6" r="4.0"/>
<circle cx="590.7" cy="141.7" r="4.0"/>
<circle cx="584.1" cy="146.0" r="4.0"/>
<circle cx="554.1" cy="139.1" r="4.0"/>
<circle cx="527.2" cy="140.8" r="4.0"/>
<circle cx="490.4" cy="153.2" r="4.0"/>
<circle cx="614.7" cy="151.2" r="4.0"/>
<circle cx="516.9" cy="145.2" r="4.0"/>
<circle cx="545.1" cy="134.2" r="4.0"/>
<circle cx="552.7" cy="144.9" r="4.0"/>
<circle cx="606.3" cy="143.3" r="4.0"/>
<circle cx="538.4" cy="141.2" r="4.0"/>
<circle cx="572.3" cy="147.6" r="4.0"/>
<circle cx="558.7" cy="137.3" r="4.0"/>
<circle cx="601.6" cy="138.8" r="4.0"/>
<circle cx="494.1" cy="152.0" r="4.0"/>
<circle cx="558.6" cy="135.8" r="4.0"/>
<circle cx="530.3" cy="143.3" r="4.0"/>
<circle cx="601.0" cy="142.4" r="4.0"/>
<circle cx="619.3" cy="148.7" r="4.0"/>
<circle cx="595.0" cy="143.4" r="4.0"/>
<circle cx="565.9" cy="134.6" r="4.0"/>
<circle cx="510.1" cy="146.5" r="4.0"/>
<circle cx="543.1" cy="143.3" r="4.0"/>
<circle cx="556.5" cy="143.4" r="4.0"/>
<circle cx="556.6" cy="136.8" r="4.0"/>
<circle cx="550.4" cy="139.8" r="4.0"/>
<circle cx="562.8" cy="145.2" r="4.0"/>
<circle cx="633.7" cy="159.0" r="4.0"/>
<circle cx="536.2" cy="146.0" r="4.0"/>
<circle cx="521.3" cy="144.1" r="4.0"/>
<circle cx="565.1" cy="141.8" r="4.0"/>
<circle cx="596.9" cy="141.9" r="4.0"/>
<circle cx="592.5" cy="144.2" r="4.0"/>
<circle cx="507.1" cy="144.4" r="4.0"/>
<circle cx="510.7" cy="145.7" r="4.0"/>
<circle cx="501.9" cy="150.9" r="4.0"/>
<circle cx="586.9" cy="136.3" r="4.0"/>
<circle cx="544.1" cy="140.7" r="4.0"/>
<circle cx="596.2" cy="147.1" r="4.0"/>
<circle cx="479.1" cy="157.9" r="4.0"/>
<circle cx="575.7" cy="138.1" r="4.0"/>
<circle cx="560.6" cy="133.8" r="4.0"/>
<circle cx="509.6" cy="143.7" r="4.0"/>
<circle cx="540.9" cy="140.2" r="4.0"/>
<circle cx="550.6" cy="141.1" r="4.0"/>
<circle cx="550.4" cy="147.0" r="4.0"/>
<circle cx="488.3" cy="154.1" r="4.0"/>
<circle cx="602.3" cy="139.2" r="4.0"/>
<circle cx="515.8" cy="144.1" r="4.0"/>
<circle cx="520.4" cy="143.9" r="4.0"/>
<circle cx="518.5" cy="148.4" r="4.0"/>
<circle cx="517.4" cy="141.7" r="4.0"/>
<circle cx="532.2" cy="143.0" r="4.0"/>
<circle cx="571.1" cy="134.5" r="4.0"/>
<circle cx="611.3" cy="151.3" r="4.0"/>
<circle cx="607.2" cy="148.9" r="4.0"/>
<circle cx="623.1" cy="155.9" r="4.0"/>
<circle cx="593.8" cy="137.2" r="4.0"/>
<circle cx="540.5" cy="147.0" r="4.0"/>
<circle cx="553.7" cy="142.4" r="4.0"/>
<circle cx="510.5" cy="143.0" r="4.0"/>
<circle cx="631.7" cy="157.4" r="4.0"/>
<circle cx="541.2" cy="144.3" r="4.0"/>
<circle cx="577.3" cy="147.8" r="4.0"/>
<circle cx="558.3" cy="135.5" r="4.0"/>
<circle cx="562.4" cy="136.7" r="4.0"/>
<circle cx="614.9" cy="148.5" r="4.0"/>
<circle cx="575.6" cy="136.0" r="4.0"/>
<circle cx="519.8" cy="143.5" r="4.0"/>
<circle cx="560.4" cy="138.9" r="4.0"/>
<circle cx="520.9" cy="142.2" r="4.0"/>
<circle cx="523.3" cy="144.6" r="4.0"/>
<circle cx="542.8" cy="147.6" r="4.0"/>
<circle cx="613.3" cy="152.1" r="4.0"/>
<circle cx="574.6" cy="134.2" r="4.0"/>
<circle cx="580.0" cy="147.1" r="4.0"/>
<circle cx="552.9" cy="133.9" r="4.0"/>
<circle cx="569.5" cy="147.0" r="4.0"/>
<circle cx="578.6" cy="140.2" r="4.0"/>
<circle cx="608.7" cy="145.9" r="4.0"/>
<circle cx="587.2" cy="143.3" r="4.0"/>
<circle cx="584.3" cy="143.6" r="4.0"/>
<circle cx="590.1" cy="139.8" r="4.0"/>
<circle cx="534.3" cy="136.3" r="4.0"/>
<circle cx="567.5" cy="147.5" r="4.0"/>
<circle cx="568.2" cy="140.3" r="4.0"/>
<circle cx="557.0" cy="140.2" r="4.0"/>
<circle cx="537.1" cy="143.4" r="4.0"/>
<circle cx="582.3" cy="139.9" r="4.0"/>
<circle cx="547.5" cy="146.2" r="4.0"/>
<circle cx="505.5" cy="150.8" r="4.0"/>
<circle cx="545.5" cy="141.9" r="4.0"/>
<circle cx="536.4" cy="140.3" r="4.0"/>
<circle cx="587.6" cy="142.1" r="4.0"/>
<circle cx="535.8" cy="144.6" r="4.0"/>
<circle cx="560.5" cy="142.4" r="4.0"/>
<circle cx="583.3" cy="138.8" r="4.0"/>
<circle cx="478.2" cy="158.1" r="4.0"/>
<circle cx="532.8" cy="139.2" r="4.0"/>
<circle cx="541.8" cy="134.8" r="4.0"/>
<circle cx="518.1" cy="141.2" r="4.0"/>
<circle cx="611.6" cy="148.1" r="4.0"/>
<circle cx="515.1" cy="143.8" r="4.0"/>
<circle cx="537.5" cy="144.9" r="4.0"/>
<circle cx="594.0" cy="142.1" r="4.0"/>
<circle cx="587.8" cy="141.6" r="4.0"/>
<circle cx="484.6" cy="156.3" r="4.0"/>
<circle cx="506.9" cy="195.2" r="4.0"/>
<circle cx="575.1" cy="190.0" r="4.0"/>
<circle cx="574.7" cy="193.2" r="4.0"/>
<circle cx="527.5" cy="194.8" r="4.0"/>
<circle cx="530.3" cy="189.1" r="4.0"/>
<circle cx="548.2" cy="191.9" r="4.0"/>
<circle cx="515.6" cy="191.7" r="4.0"/>
<circle cx="567.4" cy="194.0" r="4.0"/>
<circle cx="567.2" cy="192.1" r="4.0"/>
<circle cx="587.1" cy="195.1" r="4.0"/>
<circle cx="557.3" cy="194.4" r="4.0"/>
<circle cx="590.3" cy="192.1" r="4.0"/>
<circle cx="478.3" cy="207.8" r="4.0"/>
<circle cx="546.2" cy="197.3" r="4.0"/>
<circle cx="482.8" cy="206.0" r="4.0"/>
<circle cx="538.4" cy="188.6" r="4.0"/>
<circle cx="603.6" cy="198.2" r="4.0"/>
<circle cx="559.7" cy="197.7" r="4.0"/>
<circle cx="503.7" cy="197.8" r="4.0"/>
<circle cx="510.6" cy="194.8" r="4.0"/>
<circle cx="555.2" cy="193.6" r="4.0"/>
<circle cx="528.8" cy="193.1" r="4.0"/>
<circle cx="501.9" cy="198.5" r="4.0"/>
<circle cx="553.7" cy="196.3" r="4.0"/>
<circle cx="522.0" cy="190.0" r="4.0"/>
<circle cx="591.0" cy="197.1" r="4.0"/>
<circle cx="561.2" cy="194.3" r="4.0"/>
<circle cx="516.2" cy="197.8" r="4.0"/>
<circle cx="528.7" cy="189.2" r="4.0"/>
<circle cx="581.4" cy="196.5" r="4.0"/>
<circle cx="568.9" cy="197.1" r="4.0"/>
<circle cx="582.7" cy="195.3" r="4.0"/>
<circle cx="567.2" cy="194.4" r="4.0"/>
<circle cx="522.9" cy="190.4" r="4.0"/>
<circle cx="516.6" cy="194.2" r="4.0"/>
<circle cx="589.7" cy="194.6" r="4.0"/>
<circle cx="587.7" cy="197.0" r="4.0"/>
<circle cx="614.7" cy="205.0" r="4.0"/>
<circle cx="524.7" cy="191.0" r="4.0"/>
<circle cx="533.8" cy="192.9" r="4.0"/>
<circle cx="505.9" cy="197.4" r="4.0"/>
<circle cx="530.3" cy="190.1" r="4.0"/>
<circle cx="488.8" cy="204.6" r="4.0"/>
<circle cx="542.0" cy="194.4" r="4.0"/>
<circle cx="539.4" cy="196.2" r="4.0"/>
<circle cx="571.7" cy="190.7" r="4.0"/>
<circle cx="562.8" cy="189.1" r="4.0"/>
<circle cx="600.0" cy="199.6" r="4.0"/>
<circle cx="590.2" cy="195.1" r="4.0"/>
<circle cx="596.1" cy="197.2" r="4.0"/>
<circle cx="614.3" cy="205.5" r="4.0"/>
<circle cx="566.3" cy="194.3" r="4.0"/>
<circle cx="521.5" cy="194.4" r="4.0"/>
<circle cx="480.0" cy="207.1" r="4.0"/>
<circle cx="560.8" cy="188.7" r="4.0"/>
<circle cx="545.3" cy="193.5" r="4.0"/>
<circle cx="570.3" cy="189.5" r="4.0"/>
<circle cx="548.7" cy="195.6" r="4.0"/>
<circle cx="591.4" cy="197.0" r="4.0"/>
<circle cx="544.8" cy="190.4" r="4.0"/>
<circle cx="542.7" cy="194.7" r="4.0"/>
<circle cx="554.6" cy="190.3" r="4.0"/>
<circle cx="547.0" cy="195.6" r="4.0"/>
<circle cx="570.4" cy="194.5" r="4.0"/>
<circle cx="563.8" cy="193.8" r="4.0"/>
<circle cx="539.5" cy="191.5" r="4.0"/>
<circle cx="573.5" cy="195.0" r="4.0"/>
<circle cx="525.1" cy="192.9" r="4.0"/>
</g>
<line x1="463.2" y1="64.10" x2="479.3" y2="64.10" stroke="#000" stroke-width="1.8" stroke-dasharray="8.2 6.8"/>
<line x1="463.2" y1="58.60" x2="463.2" y2="69.60" stroke="#000" stroke-width="1.8"/>
<line x1="514.3" y1="64.10" x2="498.0" y2="64.10" stroke="#000" stroke-width="1.8" stroke-dasharray="8.2 6.8"/>
<line x1="514.3" y1="58.60" x2="514.3" y2="69.60" stroke="#000" stroke-width="1.8"/>
<line x1="454.0" y1="64.10" x2="463.2" y2="64.10" stroke="#000" stroke-width="5.4" stroke-linecap="round"/>
<line x1="446.5" y1="64.10" x2="454.0" y2="64.10" stroke="#000" stroke-width="4.4" stroke-linecap="round"/>
<circle cx="446.5" cy="64.10" r="1.1" fill="#eee"/>
<line x1="522.9" y1="64.10" x2="514.3" y2="64.10" stroke="#000" stroke-width="5.4" stroke-linecap="round"/>
<line x1="530.0" y1="64.10" x2="522.9" y2="64.10" stroke="#000" stroke-width="4.4" stroke-linecap="round"/>
<circle cx="530.0" cy="64.10" r="1.1" fill="#eee"/>
<rect x="479.3" y="53.80" width="18.7" height="20.60" fill="rgba(255,255,255,0.78)" stroke="#000" stroke-width="1.7"/>
<line x1="487.7" y1="53.80" x2="487.7" y2="74.40" stroke="#000" stroke-width="3.6"/>
<circle cx="456.5" cy="64.10" r="3.6" fill="rgba(255,0,0,0.62)"/>
<circle cx="520.5" cy="64.10" r="3.6" fill="rgba(255,0,0,0.62)"/>
<circle cx="497.3" cy="64.10" r="5.1" fill="#ff0000"/>
<line x1="464.4" y1="89.63" x2="477.2" y2="89.63" stroke="#000" stroke-width="1.8" stroke-dasharray="8.2 6.8"/>
<line x1="464.4" y1="84.13" x2="464.4" y2="95.13" stroke="#000" stroke-width="1.8"/>
<line x1="504.7" y1="89.63" x2="491.6" y2="89.63" stroke="#000" stroke-width="1.8" stroke-dasharray="8.2 6.8"/>
<line x1="504.7" y1="84.13" x2="504.7" y2="95.13" stroke="#000" stroke-width="1.8"/>
<line x1="457.6" y1="89.63" x2="464.4" y2="89.63" stroke="#000" stroke-width="5.4" stroke-linecap="round"/>
<line x1="452.0" y1="89.63" x2="457.6" y2="89.63" stroke="#000" stroke-width="4.4" stroke-linecap="round"/>
<circle cx="452.0" cy="89.63" r="1.1" fill="#eee"/>
<line x1="510.9" y1="89.63" x2="504.7" y2="89.63" stroke="#000" stroke-width="5.4" stroke-linecap="round"/>
<line x1="516.0" y1="89.63" x2="510.9" y2="89.63" stroke="#000" stroke-width="4.4" stroke-linecap="round"/>
<circle cx="516.0" cy="89.63" r="1.1" fill="#eee"/>
<rect x="477.2" y="79.33" width="14.4" height="20.60" fill="rgba(255,255,255,0.78)" stroke="#000" stroke-width="1.7"/>
<line x1="484.6" y1="79.33" x2="484.6" y2="99.93" stroke="#000" stroke-width="3.6"/>
<circle cx="459.2" cy="89.63" r="3.6" fill="rgba(255,0,0,0.62)"/>
<circle cx="509.1" cy="89.63" r="3.6" fill="rgba(255,0,0,0.62)"/>
<circle cx="481.0" cy="89.63" r="5.1" fill="#ff0000"/>
<line x1="462.1" y1="115.16" x2="483.7" y2="115.16" stroke="#000" stroke-width="1.8" stroke-dasharray="8.2 6.8"/>
<line x1="462.1" y1="109.66" x2="462.1" y2="120.66" stroke="#000" stroke-width="1.8"/>
<line x1="529.8" y1="115.16" x2="507.9" y2="115.16" stroke="#000" stroke-width="1.8" stroke-dasharray="8.2 6.8"/>
<line x1="529.8" y1="109.66" x2="529.8" y2="120.66" stroke="#000" stroke-width="1.8"/>
<line x1="450.5" y1="115.16" x2="462.1" y2="115.16" stroke="#000" stroke-width="5.4" stroke-linecap="round"/>
<line x1="441.0" y1="115.16" x2="450.5" y2="115.16" stroke="#000" stroke-width="4.4" stroke-linecap="round"/>
<circle cx="441.0" cy="115.16" r="1.1" fill="#eee"/>
<line x1="540.4" y1="115.16" x2="529.8" y2="115.16" stroke="#000" stroke-width="5.4" stroke-linecap="round"/>
<line x1="549.0" y1="115.16" x2="540.4" y2="115.16" stroke="#000" stroke-width="4.4" stroke-linecap="round"/>
<circle cx="549.0" cy="115.16" r="1.1" fill="#eee"/>
<rect x="483.7" y="104.86" width="24.2" height="20.60" fill="rgba(255,255,255,0.78)" stroke="#000" stroke-width="1.7"/>
<line x1="495.1" y1="104.86" x2="495.1" y2="125.46" stroke="#000" stroke-width="3.6"/>
<circle cx="453.0" cy="115.16" r="3.6" fill="rgba(255,0,0,0.62)"/>
<circle cx="538.0" cy="115.16" r="3.6" fill="rgba(255,0,0,0.62)"/>
<circle cx="502.1" cy="115.16" r="5.1" fill="#ff0000"/>
<line x1="453.5" y1="140.69" x2="465.0" y2="140.69" stroke="#000" stroke-width="1.8" stroke-dasharray="8.2 6.8"/>
<line x1="453.5" y1="135.19" x2="453.5" y2="146.19" stroke="#000" stroke-width="1.8"/>
<line x1="488.9" y1="140.69" x2="477.9" y2="140.69" stroke="#000" stroke-width="1.8" stroke-dasharray="8.2 6.8"/>
<line x1="488.9" y1="135.19" x2="488.9" y2="146.19" stroke="#000" stroke-width="1.8"/>
<line x1="447.4" y1="140.69" x2="453.5" y2="140.69" stroke="#000" stroke-width="5.4" stroke-linecap="round"/>
<line x1="442.5" y1="140.69" x2="447.4" y2="140.69" stroke="#000" stroke-width="4.4" stroke-linecap="round"/>
<circle cx="442.5" cy="140.69" r="1.1" fill="#eee"/>
<line x1="494.2" y1="140.69" x2="488.9" y2="140.69" stroke="#000" stroke-width="5.4" stroke-linecap="round"/>
<line x1="498.5" y1="140.69" x2="494.2" y2="140.69" stroke="#000" stroke-width="4.4" stroke-linecap="round"/>
<circle cx="498.5" cy="140.69" r="1.1" fill="#eee"/>
<rect x="465.0" y="130.39" width="12.9" height="20.60" fill="rgba(255,255,255,0.78)" stroke="#000" stroke-width="1.7"/>
<line x1="471.4" y1="130.39" x2="471.4" y2="150.99" stroke="#000" stroke-width="3.6"/>
<circle cx="448.6" cy="140.69" r="3.6" fill="rgba(255,0,0,0.62)"/>
<circle cx="492.4" cy="140.69" r="3.6" fill="rgba(255,0,0,0.62)"/>
<circle cx="464.8" cy="140.69" r="5.1" fill="#ff0000"/>
<line x1="503.0" y1="166.22" x2="540.6" y2="166.22" stroke="#000" stroke-width="1.8" stroke-dasharray="8.2 6.8"/>
<line x1="503.0" y1="160.72" x2="503.0" y2="171.72" stroke="#000" stroke-width="1.8"/>
<line x1="620.0" y1="166.22" x2="581.4" y2="166.22" stroke="#000" stroke-width="1.8" stroke-dasharray="8.2 6.8"/>
<line x1="620.0" y1="160.72" x2="620.0" y2="171.72" stroke="#000" stroke-width="1.8"/>
<line x1="483.2" y1="166.22" x2="503.0" y2="166.22" stroke="#000" stroke-width="5.4" stroke-linecap="round"/>
<line x1="467.0" y1="166.22" x2="483.2" y2="166.22" stroke="#000" stroke-width="4.4" stroke-linecap="round"/>
<circle cx="467.0" cy="166.22" r="1.1" fill="#eee"/>
<line x1="638.3" y1="166.22" x2="620.0" y2="166.22" stroke="#000" stroke-width="5.4" stroke-linecap="round"/>
<line x1="653.2" y1="166.22" x2="638.3" y2="166.22" stroke="#000" stroke-width="4.4" stroke-linecap="round"/>
<circle cx="653.2" cy="166.22" r="1.1" fill="#eee"/>
<rect x="540.6" y="155.92" width="40.8" height="20.60" fill="rgba(255,255,255,0.78)" stroke="#000" stroke-width="1.7"/>
<line x1="560.9" y1="155.92" x2="560.9" y2="176.52" stroke="#000" stroke-width="3.6"/>
<circle cx="488.1" cy="166.22" r="3.6" fill="rgba(255,0,0,0.62)"/>
<circle cx="633.5" cy="166.22" r="3.6" fill="rgba(255,0,0,0.62)"/>
<circle cx="520.8" cy="166.22" r="5.1" fill="#ff0000"/>
<line x1="469.3" y1="191.75" x2="487.7" y2="191.75" stroke="#000" stroke-width="1.8" stroke-dasharray="8.2 6.8"/>
<line x1="469.3" y1="186.25" x2="469.3" y2="197.25" stroke="#000" stroke-width="1.8"/>
<line x1="526.3" y1="191.75" x2="507.9" y2="191.75" stroke="#000" stroke-width="1.8" stroke-dasharray="8.2 6.8"/>
<line x1="526.3" y1="186.25" x2="526.3" y2="197.25" stroke="#000" stroke-width="1.8"/>
<line x1="459.8" y1="191.75" x2="469.3" y2="191.75" stroke="#000" stroke-width="5.4" stroke-linecap="round"/>
<line x1="452.0" y1="191.75" x2="459.8" y2="191.75" stroke="#000" stroke-width="4.4" stroke-linecap="round"/>
<circle cx="452.0" cy="191.75" r="1.1" fill="#eee"/>
<line x1="535.2" y1="191.75" x2="526.3" y2="191.75" stroke="#000" stroke-width="5.4" stroke-linecap="round"/>
<line x1="542.5" y1="191.75" x2="535.2" y2="191.75" stroke="#000" stroke-width="4.4" stroke-linecap="round"/>
<circle cx="542.5" cy="191.75" r="1.1" fill="#eee"/>
<rect x="487.7" y="181.45" width="20.2" height="20.60" fill="rgba(255,255,255,0.78)" stroke="#000" stroke-width="1.7"/>
<line x1="497.7" y1="181.45" x2="497.7" y2="202.05" stroke="#000" stroke-width="3.6"/>
<circle cx="462.1" cy="191.75" r="3.6" fill="rgba(255,0,0,0.62)"/>
<circle cx="532.7" cy="191.75" r="3.6" fill="rgba(255,0,0,0.62)"/>
<circle cx="493.0" cy="191.75" r="5.1" fill="#ff0000"/>
<line x1="491.6" y1="217.28" x2="528.4" y2="217.28" stroke="#000" stroke-width="1.8" stroke-dasharray="8.2 6.8"/>
<line x1="491.6" y1="211.78" x2="491.6" y2="222.78" stroke="#000" stroke-width="1.8"/>
<line x1="606.5" y1="217.28" x2="568.6" y2="217.28" stroke="#000" stroke-width="1.8" stroke-dasharray="8.2 6.8"/>
<line x1="606.5" y1="211.78" x2="606.5" y2="222.78" stroke="#000" stroke-width="1.8"/>
<line x1="472.3" y1="217.28" x2="491.6" y2="217.28" stroke="#000" stroke-width="5.4" stroke-linecap="round"/>
<line x1="456.5" y1="217.28" x2="472.3" y2="217.28" stroke="#000" stroke-width="4.4" stroke-linecap="round"/>
<circle cx="456.5" cy="217.28" r="1.1" fill="#eee"/>
<line x1="624.6" y1="217.28" x2="606.5" y2="217.28" stroke="#000" stroke-width="5.4" stroke-linecap="round"/>
<line x1="639.5" y1="217.28" x2="624.6" y2="217.28" stroke="#000" stroke-width="4.4" stroke-linecap="round"/>
<circle cx="639.5" cy="217.28" r="1.1" fill="#eee"/>
<rect x="528.4" y="206.98" width="40.2" height="20.60" fill="rgba(255,255,255,0.78)" stroke="#000" stroke-width="1.7"/>
<line x1="548.3" y1="206.98" x2="548.3" y2="227.58" stroke="#000" stroke-width="3.6"/>
<circle cx="477.2" cy="217.28" r="3.6" fill="rgba(255,0,0,0.62)"/>
<circle cx="619.6" cy="217.28" r="3.6" fill="rgba(255,0,0,0.62)"/>
<circle cx="541.8" cy="217.28" r="5.1" fill="#ff0000"/>
<line x1="457.8" y1="242.81" x2="464.1" y2="242.81" stroke="#000" stroke-width="1.8" stroke-dasharray="8.2 6.8"/>
<line x1="457.8" y1="237.31" x2="457.8" y2="248.31" stroke="#000" stroke-width="1.8"/>
<line x1="479.1" y1="242.81" x2="472.5" y2="242.81" stroke="#000" stroke-width="1.8" stroke-dasharray="8.2 6.8"/>
<line x1="479.1" y1="237.31" x2="479.1" y2="248.31" stroke="#000" stroke-width="1.8"/>
<line x1="454.3" y1="242.81" x2="457.8" y2="242.81" stroke="#000" stroke-width="5.4" stroke-linecap="round"/>
<line x1="451.5" y1="242.81" x2="454.3" y2="242.81" stroke="#000" stroke-width="4.4" stroke-linecap="round"/>
<circle cx="451.5" cy="242.81" r="1.1" fill="#eee"/>
<line x1="482.0" y1="242.81" x2="479.1" y2="242.81" stroke="#000" stroke-width="5.4" stroke-linecap="round"/>
<line x1="484.3" y1="242.81" x2="482.0" y2="242.81" stroke="#000" stroke-width="4.4" stroke-linecap="round"/>
<circle cx="484.3" cy="242.81" r="1.1" fill="#eee"/>
<rect x="464.1" y="232.51" width="8.4" height="20.60" fill="rgba(255,255,255,0.78)" stroke="#000" stroke-width="1.7"/>
<line x1="468.3" y1="232.51" x2="468.3" y2="253.11" stroke="#000" stroke-width="3.6"/>
<circle cx="455.0" cy="242.81" r="3.6" fill="rgba(255,0,0,0.62)"/>
<circle cx="481.6" cy="242.81" r="3.6" fill="rgba(255,0,0,0.62)"/>
<circle cx="467.7" cy="242.81" r="5.1" fill="#ff0000"/>
<line x1="443.95" y1="250.40" x2="443.95" y2="43.85" stroke="#dc2c34" stroke-width="2.3" stroke-dasharray="8.6 6.6"/>
</g>
<rect x="432.50" y="43.85" width="229.60" height="206.55" fill="none" stroke="#000" stroke-width="1.5"/>
<line x1="420.50" y1="64.10" x2="432.50" y2="64.10" stroke="#000" stroke-width="1.5"/>
<text x="410.00" y="70.90" text-anchor="end" class="lab">ARM12</text>
<line x1="420.50" y1="89.63" x2="432.50" y2="89.63" stroke="#000" stroke-width="1.5"/>
<text x="410.00" y="96.43" text-anchor="end" class="lab">ARM08</text>
<line x1="420.50" y1="115.16" x2="432.50" y2="115.16" stroke="#000" stroke-width="1.5"/>
<text x="410.00" y="121.96" text-anchor="end" class="lab">ARM06</text>
<line x1="420.50" y1="140.69" x2="432.50" y2="140.69" stroke="#000" stroke-width="1.5"/>
<text x="410.00" y="147.49" text-anchor="end" class="lab">ARM05</text>
<line x1="420.50" y1="166.22" x2="432.50" y2="166.22" stroke="#000" stroke-width="1.5"/>
<text x="410.00" y="173.02" text-anchor="end" class="lab">ARM04</text>
<line x1="420.50" y1="191.75" x2="432.50" y2="191.75" stroke="#000" stroke-width="1.5"/>
<text x="410.00" y="198.55" text-anchor="end" class="lab">ARM03</text>
<line x1="420.50" y1="217.28" x2="432.50" y2="217.28" stroke="#000" stroke-width="1.5"/>
<text x="410.00" y="224.08" text-anchor="end" class="lab">ARM02</text>
<line x1="420.50" y1="242.81" x2="432.50" y2="242.81" stroke="#000" stroke-width="1.5"/>
<text x="410.00" y="249.61" text-anchor="end" class="lab">ARM01</text>
<line x1="473.00" y1="250.40" x2="473.00" y2="262.00" stroke="#000" stroke-width="1.5"/>
<text x="473.00" y="291.70" text-anchor="middle" class="lab">500</text>
<line x1="518.55" y1="250.40" x2="518.55" y2="262.00" stroke="#000" stroke-width="1.5"/>
<line x1="564.10" y1="250.40" x2="564.10" y2="262.00" stroke="#000" stroke-width="1.5"/>
<text x="564.10" y="291.70" text-anchor="middle" class="lab">1500</text>
<line x1="609.65" y1="250.40" x2="609.65" y2="262.00" stroke="#000" stroke-width="1.5"/>
<line x1="655.20" y1="250.40" x2="655.20" y2="262.00" stroke="#000" stroke-width="1.5"/>
<text x="655.20" y="291.70" text-anchor="middle" class="lab">2500</text>
<text transform="translate(547.30,18.10) scale(1,1.04)" text-anchor="middle" class="ttl">Herbivorous fish biomass</text>
<text transform="translate(648.60,88.15) scale(1,1.08)" text-anchor="end" class="let">B</text>
<clipPath id="clipC"><rect x="88.60" y="387.50" width="229.60" height="206.60"/></clipPath>
<g clip-path="url(#clipC)">
<rect x="95.2" y="387.5" width="17.5" height="101.0" fill="#c4c4c4"/>
<rect x="92.7" y="387.5" width="18.4" height="24.3" fill="#c4c4c4"/>
<rect x="95.2" y="387.5" width="15.9" height="24.3" fill="#adadad"/>
<path d="M96.0,535.4 L100.0,528.0 L105.0,519.0 L110.0,511.0 L118.0,503.0 L135.0,498.0 L160.0,500.0 L166.0,508.0 L170.0,516.0 L174.0,526.0 L177.0,535.4 L177.0,539.7 L96.0,539.7 Z" fill="#c6c6c6"/>
<path d="M112.0,433.3 L121.0,428.5 L133.7,421.0 L141.0,412.0 L146.5,403.0 L151.5,396.0 L157.0,391.5 L163.0,389.3 L170.0,388.4 L178.0,388.6 L184.0,390.2 L189.0,394.0 L194.7,400.5 L204.8,410.5 L215.0,420.0 L225.2,428.0 L236.7,433.3 L236.7,437.6 L112.0,437.6 Z" fill="#c6c6c6"/>
<path d="M145.0,458.8 L150.0,456.0 L158.0,452.0 L161.4,445.5 L165.0,443.8 L189.9,436.6 L214.8,436.6 L223.7,440.1 L230.8,442.8 L239.7,448.2 L248.6,452.6 L257.5,458.8 L257.5,463.1 L145.0,463.1 Z" fill="#a9a9a9"/>
<path d="M112.4,509.9 L114.9,502.5 L119.3,493.8 L122.3,486.4 L125.6,477.7 L129.0,469.0 L132.0,459.1 L135.0,450.4 L138.5,445.2 L144.5,442.5 L150.9,442.0 L154.6,443.8 L156.0,448.5 L159.8,447.2 L162.8,459.1 L165.8,469.0 L168.3,476.5 L170.8,485.1 L173.8,493.8 L177.6,501.3 L182.0,507.5 L183.5,509.9 L183.5,514.2 L112.4,514.2 Z" fill="#a9a9a9"/>
<path d="M142.0,560.9 L166.3,554.4 L176.8,546.5 L184.7,540.0 L189.9,534.7 L195.2,529.5 L201.7,526.8 L208.3,529.5 L218.8,528.1 L230.6,525.5 L242.5,529.5 L253.0,534.7 L263.5,541.3 L274.0,547.8 L287.1,554.4 L300.3,557.6 L310.8,560.9 L310.8,565.2 L142.0,565.2 Z" fill="#c6c6c6"/>
<path d="M142.0,560.9 L166.3,554.4 L176.8,546.5 L184.7,540.0 L195.0,537.0 L208.0,533.0 L218.8,528.1 L230.6,525.5 L242.5,529.5 L253.0,534.7 L263.5,541.3 L274.0,547.8 L287.1,554.4 L300.3,557.6 L310.8,560.9 L310.8,565.2 L142.0,565.2 Z" fill="#a9a9a9"/>
<path d="M157.0,586.5 L163.6,578.0 L171.5,570.2 L179.4,566.2 L189.9,564.9 L208.3,564.9 L218.8,566.2 L229.3,572.8 L237.2,579.4 L245.1,586.5 L245.1,590.8 L157.0,590.8 Z" fill="#c6c6c6"/>
<line x1="96.4" y1="407.75" x2="98.9" y2="407.75" stroke="#000" stroke-width="1.8" stroke-dasharray="8.2 6.8"/>
<line x1="96.4" y1="402.25" x2="96.4" y2="413.25" stroke="#000" stroke-width="1.8"/>
<line x1="106.4" y1="407.75" x2="104.9" y2="407.75" stroke="#000" stroke-width="1.8" stroke-dasharray="8.2 6.8"/>
<line x1="106.4" y1="402.25" x2="106.4" y2="413.25" stroke="#000" stroke-width="1.8"/>
<rect x="98.9" y="396.65" width="6.0" height="22.20" fill="#000"/>
<circle cx="96.4" cy="407.75" r="3.6" fill="rgba(255,0,0,0.62)"/>
<circle cx="106.4" cy="407.75" r="3.6" fill="rgba(255,0,0,0.62)"/>
<circle cx="96.4" cy="407.75" r="5.1" fill="#ff0000"/>
<line x1="135.4" y1="433.28" x2="160.9" y2="433.28" stroke="#000" stroke-width="1.8" stroke-dasharray="8.2 6.8"/>
<line x1="135.4" y1="427.78" x2="135.4" y2="438.78" stroke="#000" stroke-width="1.8"/>
<line x1="214.8" y1="433.28" x2="189.4" y2="433.28" stroke="#000" stroke-width="1.8" stroke-dasharray="8.2 6.8"/>
<line x1="214.8" y1="427.78" x2="214.8" y2="438.78" stroke="#000" stroke-width="1.8"/>
<line x1="123.9" y1="433.28" x2="135.4" y2="433.28" stroke="#000" stroke-width="5.4" stroke-linecap="round"/>
<line x1="114.5" y1="433.28" x2="123.9" y2="433.28" stroke="#000" stroke-width="4.4" stroke-linecap="round"/>
<circle cx="114.5" cy="433.28" r="1.1" fill="#eee"/>
<line x1="225.9" y1="433.28" x2="214.8" y2="433.28" stroke="#000" stroke-width="5.4" stroke-linecap="round"/>
<line x1="235.0" y1="433.28" x2="225.9" y2="433.28" stroke="#000" stroke-width="4.4" stroke-linecap="round"/>
<circle cx="235.0" cy="433.28" r="1.1" fill="#eee"/>
<rect x="160.9" y="422.98" width="28.5" height="20.60" fill="rgba(255,255,255,0.78)" stroke="#000" stroke-width="1.7"/>
<line x1="175.1" y1="422.98" x2="175.1" y2="443.58" stroke="#000" stroke-width="3.6"/>
<circle cx="123.5" cy="433.28" r="3.6" fill="rgba(255,0,0,0.62)"/>
<circle cx="223.9" cy="433.28" r="3.6" fill="rgba(255,0,0,0.62)"/>
<circle cx="180.7" cy="433.28" r="5.1" fill="#ff0000"/>
<line x1="160.5" y1="458.81" x2="186.3" y2="458.81" stroke="#000" stroke-width="1.8" stroke-dasharray="8.2 6.8"/>
<line x1="160.5" y1="453.31" x2="160.5" y2="464.31" stroke="#000" stroke-width="1.8"/>
<line x1="240.2" y1="458.81" x2="214.8" y2="458.81" stroke="#000" stroke-width="1.8" stroke-dasharray="8.2 6.8"/>
<line x1="240.2" y1="453.31" x2="240.2" y2="464.31" stroke="#000" stroke-width="1.8"/>
<line x1="151.7" y1="458.81" x2="160.5" y2="458.81" stroke="#000" stroke-width="5.4" stroke-linecap="round"/>
<line x1="144.5" y1="458.81" x2="151.7" y2="458.81" stroke="#000" stroke-width="4.4" stroke-linecap="round"/>
<circle cx="144.5" cy="458.81" r="1.1" fill="#eee"/>
<line x1="248.9" y1="458.81" x2="240.2" y2="458.81" stroke="#000" stroke-width="5.4" stroke-linecap="round"/>
<line x1="256.0" y1="458.81" x2="248.9" y2="458.81" stroke="#000" stroke-width="4.4" stroke-linecap="round"/>
<circle cx="256.0" cy="458.81" r="1.1" fill="#eee"/>
<rect x="186.3" y="448.51" width="28.5" height="20.60" fill="rgba(255,255,255,0.78)" stroke="#000" stroke-width="1.7"/>
<line x1="199.9" y1="448.51" x2="199.9" y2="469.11" stroke="#000" stroke-width="3.6"/>
<circle cx="153.5" cy="458.81" r="3.6" fill="rgba(255,0,0,0.62)"/>
<circle cx="246.9" cy="458.81" r="3.6" fill="rgba(255,0,0,0.62)"/>
<circle cx="202.9" cy="458.81" r="5.1" fill="#ff0000"/>
<line x1="99.9" y1="484.34" x2="101.1" y2="484.34" stroke="#000" stroke-width="1.8" stroke-dasharray="8.2 6.8"/>
<line x1="99.9" y1="478.84" x2="99.9" y2="489.84" stroke="#000" stroke-width="1.8"/>
<line x1="108.1" y1="484.34" x2="106.9" y2="484.34" stroke="#000" stroke-width="1.8" stroke-dasharray="8.2 6.8"/>
<line x1="108.1" y1="478.84" x2="108.1" y2="489.84" stroke="#000" stroke-width="1.8"/>
<rect x="101.1" y="473.24" width="5.8" height="22.20" fill="#000"/>
<circle cx="98.9" cy="484.34" r="3.6" fill="rgba(255,0,0,0.62)"/>
<circle cx="108.1" cy="484.34" r="3.6" fill="rgba(255,0,0,0.62)"/>
<circle cx="108.1" cy="484.34" r="5.1" fill="#ff0000"/>
<line x1="120.9" y1="509.87" x2="137.6" y2="509.87" stroke="#000" stroke-width="1.8" stroke-dasharray="8.2 6.8"/>
<line x1="120.9" y1="504.37" x2="120.9" y2="515.37" stroke="#000" stroke-width="1.8"/>
<line x1="173.3" y1="509.87" x2="156.3" y2="509.87" stroke="#000" stroke-width="1.8" stroke-dasharray="8.2 6.8"/>
<line x1="173.3" y1="504.37" x2="173.3" y2="515.37" stroke="#000" stroke-width="1.8"/>
<line x1="117.1" y1="509.87" x2="120.9" y2="509.87" stroke="#000" stroke-width="5.4" stroke-linecap="round"/>
<line x1="114.0" y1="509.87" x2="117.1" y2="509.87" stroke="#000" stroke-width="4.4" stroke-linecap="round"/>
<circle cx="114.0" cy="509.87" r="1.1" fill="#eee"/>
<line x1="177.0" y1="509.87" x2="173.3" y2="509.87" stroke="#000" stroke-width="5.4" stroke-linecap="round"/>
<line x1="180.0" y1="509.87" x2="177.0" y2="509.87" stroke="#000" stroke-width="4.4" stroke-linecap="round"/>
<circle cx="180.0" cy="509.87" r="1.1" fill="#eee"/>
<rect x="137.6" y="499.57" width="18.7" height="20.60" fill="rgba(255,255,255,0.78)" stroke="#000" stroke-width="1.7"/>
<line x1="147.2" y1="499.57" x2="147.2" y2="520.17" stroke="#000" stroke-width="3.6"/>
<circle cx="116.6" cy="509.87" r="3.6" fill="rgba(255,0,0,0.62)"/>
<circle cx="177.3" cy="509.87" r="3.6" fill="rgba(255,0,0,0.62)"/>
<circle cx="150.2" cy="509.87" r="5.1" fill="#ff0000"/>
<line x1="110.8" y1="535.40" x2="127.4" y2="535.40" stroke="#000" stroke-width="1.8" stroke-dasharray="8.2 6.8"/>
<line x1="110.8" y1="529.90" x2="110.8" y2="540.90" stroke="#000" stroke-width="1.8"/>
<line x1="163.0" y1="535.40" x2="146.3" y2="535.40" stroke="#000" stroke-width="1.8" stroke-dasharray="8.2 6.8"/>
<line x1="163.0" y1="529.90" x2="163.0" y2="540.90" stroke="#000" stroke-width="1.8"/>
<line x1="104.9" y1="535.40" x2="110.8" y2="535.40" stroke="#000" stroke-width="5.4" stroke-linecap="round"/>
<line x1="100.0" y1="535.40" x2="104.9" y2="535.40" stroke="#000" stroke-width="4.4" stroke-linecap="round"/>
<circle cx="100.0" cy="535.40" r="1.1" fill="#eee"/>
<line x1="168.8" y1="535.40" x2="163.0" y2="535.40" stroke="#000" stroke-width="5.4" stroke-linecap="round"/>
<line x1="173.5" y1="535.40" x2="168.8" y2="535.40" stroke="#000" stroke-width="4.4" stroke-linecap="round"/>
<circle cx="173.5" cy="535.40" r="1.1" fill="#eee"/>
<rect x="127.4" y="525.10" width="18.9" height="20.60" fill="rgba(255,255,255,0.78)" stroke="#000" stroke-width="1.7"/>
<line x1="136.7" y1="525.10" x2="136.7" y2="545.70" stroke="#000" stroke-width="3.6"/>
<circle cx="104.1" cy="535.40" r="3.6" fill="rgba(255,0,0,0.62)"/>
<circle cx="169.1" cy="535.40" r="3.6" fill="rgba(255,0,0,0.62)"/>
<circle cx="119.2" cy="535.40" r="5.1" fill="#ff0000"/>
<line x1="174.2" y1="560.93" x2="209.6" y2="560.93" stroke="#000" stroke-width="1.8" stroke-dasharray="8.2 6.8"/>
<line x1="174.2" y1="555.43" x2="174.2" y2="566.43" stroke="#000" stroke-width="1.8"/>
<line x1="281.9" y1="560.93" x2="247.2" y2="560.93" stroke="#000" stroke-width="1.8" stroke-dasharray="8.2 6.8"/>
<line x1="281.9" y1="555.43" x2="281.9" y2="566.43" stroke="#000" stroke-width="1.8"/>
<line x1="157.9" y1="560.93" x2="174.2" y2="560.93" stroke="#000" stroke-width="5.4" stroke-linecap="round"/>
<line x1="144.5" y1="560.93" x2="157.9" y2="560.93" stroke="#000" stroke-width="4.4" stroke-linecap="round"/>
<circle cx="144.5" cy="560.93" r="1.1" fill="#eee"/>
<line x1="296.8" y1="560.93" x2="281.9" y2="560.93" stroke="#000" stroke-width="5.4" stroke-linecap="round"/>
<line x1="309.0" y1="560.93" x2="296.8" y2="560.93" stroke="#000" stroke-width="4.4" stroke-linecap="round"/>
<circle cx="309.0" cy="560.93" r="1.1" fill="#eee"/>
<rect x="209.6" y="550.63" width="37.6" height="20.60" fill="rgba(255,255,255,0.78)" stroke="#000" stroke-width="1.7"/>
<line x1="228.0" y1="550.63" x2="228.0" y2="571.23" stroke="#000" stroke-width="3.6"/>
<circle cx="163.1" cy="560.93" r="3.6" fill="rgba(255,0,0,0.62)"/>
<circle cx="293.2" cy="560.93" r="3.6" fill="rgba(255,0,0,0.62)"/>
<circle cx="273.5" cy="560.93" r="5.1" fill="#ff0000"/>
<line x1="171.0" y1="586.46" x2="189.4" y2="586.46" stroke="#000" stroke-width="1.8" stroke-dasharray="8.2 6.8"/>
<line x1="171.0" y1="580.96" x2="171.0" y2="591.96" stroke="#000" stroke-width="1.8"/>
<line x1="229.3" y1="586.46" x2="210.4" y2="586.46" stroke="#000" stroke-width="1.8" stroke-dasharray="8.2 6.8"/>
<line x1="229.3" y1="580.96" x2="229.3" y2="591.96" stroke="#000" stroke-width="1.8"/>
<line x1="164.9" y1="586.46" x2="171.0" y2="586.46" stroke="#000" stroke-width="5.4" stroke-linecap="round"/>
<line x1="160.0" y1="586.46" x2="164.9" y2="586.46" stroke="#000" stroke-width="4.4" stroke-linecap="round"/>
<circle cx="160.0" cy="586.46" r="1.1" fill="#eee"/>
<line x1="236.6" y1="586.46" x2="229.3" y2="586.46" stroke="#000" stroke-width="5.4" stroke-linecap="round"/>
<line x1="242.5" y1="586.46" x2="236.6" y2="586.46" stroke="#000" stroke-width="4.4" stroke-linecap="round"/>
<circle cx="242.5" cy="586.46" r="1.1" fill="#eee"/>
<rect x="189.4" y="576.16" width="21.0" height="20.60" fill="rgba(255,255,255,0.78)" stroke="#000" stroke-width="1.7"/>
<line x1="201.0" y1="576.16" x2="201.0" y2="596.76" stroke="#000" stroke-width="3.6"/>
<circle cx="165.7" cy="586.46" r="3.6" fill="rgba(255,0,0,0.62)"/>
<circle cx="235.9" cy="586.46" r="3.6" fill="rgba(255,0,0,0.62)"/>
<circle cx="193.3" cy="586.46" r="5.1" fill="#ff0000"/>
<line x1="91.00" y1="594.10" x2="91.00" y2="387.50" stroke="#dc2c34" stroke-width="2.3" stroke-dasharray="8.6 6.6"/>
</g>
<rect x="88.60" y="387.50" width="229.60" height="206.60" fill="none" stroke="#000" stroke-width="1.5"/>
<line x1="76.60" y1="407.75" x2="88.60" y2="407.75" stroke="#000" stroke-width="1.5"/>
<text x="66.10" y="414.55" text-anchor="end" class="lab">ARM12</text>
<line x1="76.60" y1="433.28" x2="88.60" y2="433.28" stroke="#000" stroke-width="1.5"/>
<text x="66.10" y="440.08" text-anchor="end" class="lab">ARM08</text>
<line x1="76.60" y1="458.81" x2="88.60" y2="458.81" stroke="#000" stroke-width="1.5"/>
<text x="66.10" y="465.61" text-anchor="end" class="lab">ARM06</text>
<line x1="76.60" y1="484.34" x2="88.60" y2="484.34" stroke="#000" stroke-width="1.5"/>
<text x="66.10" y="491.14" text-anchor="end" class="lab">ARM05</text>
<line x1="76.60" y1="509.87" x2="88.60" y2="509.87" stroke="#000" stroke-width="1.5"/>
<text x="66.10" y="516.67" text-anchor="end" class="lab">ARM04</text>
<line x1="76.60" y1="535.40" x2="88.60" y2="535.40" stroke="#000" stroke-width="1.5"/>
<text x="66.10" y="542.20" text-anchor="end" class="lab">ARM03</text>
<line x1="76.60" y1="560.93" x2="88.60" y2="560.93" stroke="#000" stroke-width="1.5"/>
<text x="66.10" y="567.73" text-anchor="end" class="lab">ARM02</text>
<line x1="76.60" y1="586.46" x2="88.60" y2="586.46" stroke="#000" stroke-width="1.5"/>
<text x="66.10" y="593.26" text-anchor="end" class="lab">ARM01</text>
<line x1="126.80" y1="594.10" x2="126.80" y2="605.70" stroke="#000" stroke-width="1.5"/>
<text x="126.80" y="635.40" text-anchor="middle" class="lab">10</text>
<line x1="173.30" y1="594.10" x2="173.30" y2="605.70" stroke="#000" stroke-width="1.5"/>
<text x="173.30" y="635.40" text-anchor="middle" class="lab">15</text>
<line x1="219.80" y1="594.10" x2="219.80" y2="605.70" stroke="#000" stroke-width="1.5"/>
<text x="219.80" y="635.40" text-anchor="middle" class="lab">20</text>
<line x1="266.30" y1="594.10" x2="266.30" y2="605.70" stroke="#000" stroke-width="1.5"/>
<text x="266.30" y="635.40" text-anchor="middle" class="lab">25</text>
<line x1="312.80" y1="594.10" x2="312.80" y2="605.70" stroke="#000" stroke-width="1.5"/>
<text x="312.80" y="635.40" text-anchor="middle" class="lab">30</text>
<text transform="translate(203.40,361.75) scale(1,1.04)" text-anchor="middle" class="ttl">Juvenile coral density</text>
<text transform="translate(304.70,431.80) scale(1,1.08)" text-anchor="end" class="let">C</text>
<clipPath id="clipD"><rect x="432.50" y="387.50" width="229.60" height="206.60"/></clipPath>
<g clip-path="url(#clipD)">
<rect x="465.0" y="387.5" width="22.8" height="23.0" rx="4.0" fill="#a9a9a9"/>
<rect x="522.2" y="387.5" width="22.0" height="49.5" rx="4.0" fill="#bebebe"/>
<line x1="444.4" y1="484.34" x2="444.4" y2="484.30" stroke="#c6c6c6" stroke-width="8.4" stroke-linecap="round"/>
<line x1="453.9" y1="484.34" x2="453.9" y2="479.20" stroke="#c6c6c6" stroke-width="8.4" stroke-linecap="round"/>
<line x1="461.2" y1="484.34" x2="461.2" y2="472.70" stroke="#c6c6c6" stroke-width="8.4" stroke-linecap="round"/>
<line x1="468.5" y1="484.34" x2="468.5" y2="466.10" stroke="#c6c6c6" stroke-width="8.4" stroke-linecap="round"/>
<line x1="475.8" y1="484.34" x2="475.8" y2="460.20" stroke="#c6c6c6" stroke-width="8.4" stroke-linecap="round"/>
<line x1="483.1" y1="484.34" x2="483.1" y2="454.40" stroke="#c6c6c6" stroke-width="8.4" stroke-linecap="round"/>
<line x1="490.4" y1="484.34" x2="490.4" y2="453.70" stroke="#c6c6c6" stroke-width="8.4" stroke-linecap="round"/>
<line x1="497.7" y1="484.34" x2="497.7" y2="456.60" stroke="#c6c6c6" stroke-width="8.4" stroke-linecap="round"/>
<line x1="505.0" y1="484.34" x2="505.0" y2="461.70" stroke="#c6c6c6" stroke-width="8.4" stroke-linecap="round"/>
<line x1="512.3" y1="484.34" x2="512.3" y2="467.60" stroke="#c6c6c6" stroke-width="8.4" stroke-linecap="round"/>
<line x1="519.6" y1="484.34" x2="519.6" y2="473.40" stroke="#c6c6c6" stroke-width="8.4" stroke-linecap="round"/>
<line x1="526.9" y1="484.34" x2="526.9" y2="478.50" stroke="#c6c6c6" stroke-width="8.4" stroke-linecap="round"/>
<line x1="533.5" y1="484.34" x2="533.5" y2="484.30" stroke="#c6c6c6" stroke-width="8.4" stroke-linecap="round"/>
<line x1="540.3" y1="484.34" x2="540.3" y2="484.30" stroke="#c6c6c6" stroke-width="8.4" stroke-linecap="round"/>
<line x1="522.5" y1="535.40" x2="522.5" y2="535.40" stroke="#c6c6c6" stroke-width="8.4" stroke-linecap="round"/>
<line x1="529.0" y1="535.40" x2="529.0" y2="525.20" stroke="#c6c6c6" stroke-width="8.4" stroke-linecap="round"/>
<line x1="536.0" y1="535.40" x2="536.0" y2="525.20" stroke="#c6c6c6" stroke-width="8.4" stroke-linecap="round"/>
<line x1="540.5" y1="535.40" x2="540.5" y2="483.50" stroke="#c6c6c6" stroke-width="8.4" stroke-linecap="round"/>
<line x1="547.0" y1="535.40" x2="547.0" y2="483.50" stroke="#c6c6c6" stroke-width="8.4" stroke-linecap="round"/>
<line x1="554.5" y1="535.40" x2="554.5" y2="489.50" stroke="#c6c6c6" stroke-width="8.4" stroke-linecap="round"/>
<line x1="558.0" y1="535.40" x2="558.0" y2="525.20" stroke="#c6c6c6" stroke-width="8.4" stroke-linecap="round"/>
<line x1="565.0" y1="535.40" x2="565.0" y2="525.20" stroke="#c6c6c6" stroke-width="8.4" stroke-linecap="round"/>
<line x1="568.5" y1="535.40" x2="568.5" y2="525.20" stroke="#c6c6c6" stroke-width="8.4" stroke-linecap="round"/>
<line x1="572.0" y1="535.40" x2="572.0" y2="535.40" stroke="#c6c6c6" stroke-width="8.4" stroke-linecap="round"/>
<line x1="525.8" y1="458.81" x2="525.8" y2="457.00" stroke="#a9a9a9" stroke-width="8.4" stroke-linecap="round"/>
<line x1="532.9" y1="458.81" x2="532.9" y2="450.90" stroke="#a9a9a9" stroke-width="8.4" stroke-linecap="round"/>
<line x1="540.0" y1="458.81" x2="540.0" y2="443.00" stroke="#a9a9a9" stroke-width="8.4" stroke-linecap="round"/>
<line x1="547.1" y1="458.81" x2="547.1" y2="432.50" stroke="#a9a9a9" stroke-width="8.4" stroke-linecap="round"/>
<line x1="554.2" y1="458.81" x2="554.2" y2="423.20" stroke="#a9a9a9" stroke-width="8.4" stroke-linecap="round"/>
<line x1="561.3" y1="458.81" x2="561.3" y2="420.20" stroke="#a9a9a9" stroke-width="8.4" stroke-linecap="round"/>
<line x1="568.4" y1="458.81" x2="568.4" y2="424.60" stroke="#a9a9a9" stroke-width="8.4" stroke-linecap="round"/>
<line x1="575.5" y1="458.81" x2="575.5" y2="432.00" stroke="#a9a9a9" stroke-width="8.4" stroke-linecap="round"/>
<line x1="582.6" y1="458.81" x2="582.6" y2="442.95" stroke="#a9a9a9" stroke-width="8.4" stroke-linecap="round"/>
<line x1="589.7" y1="458.81" x2="589.7" y2="450.80" stroke="#a9a9a9" stroke-width="8.4" stroke-linecap="round"/>
<line x1="596.8" y1="458.81" x2="596.8" y2="456.20" stroke="#a9a9a9" stroke-width="8.4" stroke-linecap="round"/>
<line x1="525.8" y1="509.87" x2="525.8" y2="509.80" stroke="#a9a9a9" stroke-width="8.4" stroke-linecap="round"/>
<line x1="533.1" y1="509.87" x2="533.1" y2="509.80" stroke="#a9a9a9" stroke-width="8.4" stroke-linecap="round"/>
<line x1="540.1" y1="509.87" x2="540.1" y2="509.80" stroke="#a9a9a9" stroke-width="8.4" stroke-linecap="round"/>
<line x1="547.0" y1="509.87" x2="547.0" y2="509.80" stroke="#a9a9a9" stroke-width="8.4" stroke-linecap="round"/>
<line x1="554.2" y1="509.87" x2="554.2" y2="499.20" stroke="#a9a9a9" stroke-width="8.4" stroke-linecap="round"/>
<line x1="558.3" y1="509.87" x2="558.3" y2="497.00" stroke="#a9a9a9" stroke-width="8.4" stroke-linecap="round"/>
<line x1="565.6" y1="509.87" x2="565.6" y2="493.90" stroke="#a9a9a9" stroke-width="8.4" stroke-linecap="round"/>
<line x1="568.7" y1="509.87" x2="568.7" y2="491.80" stroke="#a9a9a9" stroke-width="8.4" stroke-linecap="round"/>
<line x1="574.9" y1="509.87" x2="574.9" y2="487.70" stroke="#a9a9a9" stroke-width="8.4" stroke-linecap="round"/>
<line x1="582.2" y1="509.87" x2="582.2" y2="485.60" stroke="#a9a9a9" stroke-width="8.4" stroke-linecap="round"/>
<line x1="589.4" y1="509.87" x2="589.4" y2="485.60" stroke="#a9a9a9" stroke-width="8.4" stroke-linecap="round"/>
<line x1="596.7" y1="509.87" x2="596.7" y2="486.60" stroke="#a9a9a9" stroke-width="8.4" stroke-linecap="round"/>
<line x1="604.0" y1="509.87" x2="604.0" y2="489.70" stroke="#a9a9a9" stroke-width="8.4" stroke-linecap="round"/>
<line x1="611.2" y1="509.87" x2="611.2" y2="493.90" stroke="#a9a9a9" stroke-width="8.4" stroke-linecap="round"/>
<line x1="618.5" y1="509.87" x2="618.5" y2="493.90" stroke="#a9a9a9" stroke-width="8.4" stroke-linecap="round"/>
<line x1="625.7" y1="509.87" x2="625.7" y2="500.10" stroke="#a9a9a9" stroke-width="8.4" stroke-linecap="round"/>
<line x1="633.0" y1="509.87" x2="633.0" y2="505.30" stroke="#a9a9a9" stroke-width="8.4" stroke-linecap="round"/>
<line x1="640.2" y1="509.87" x2="640.2" y2="508.40" stroke="#a9a9a9" stroke-width="8.4" stroke-linecap="round"/>
<line x1="647.5" y1="509.87" x2="647.5" y2="509.20" stroke="#a9a9a9" stroke-width="8.4" stroke-linecap="round"/>
<line x1="653.7" y1="509.87" x2="653.7" y2="509.80" stroke="#a9a9a9" stroke-width="8.4" stroke-linecap="round"/>
<rect x="607.0" y="497.0" width="22.3" height="68.0" rx="4.0" fill="#a9a9a9"/>
<rect x="614.3" y="460.0" width="8.2" height="40.0" rx="4.0" fill="#a9a9a9"/>
<rect x="578.2" y="518.0" width="23.0" height="72.5" rx="4.0" fill="#c4c4c4"/>
<rect x="469.2" y="397.45" width="14.6" height="20.60" fill="rgba(255,255,255,0.78)" stroke="#000" stroke-width="1.7"/>
<line x1="476.5" y1="397.45" x2="476.5" y2="418.05" stroke="#000" stroke-width="3.6"/>
<circle cx="468.1" cy="407.75" r="3.6" fill="rgba(255,0,0,0.62)"/>
<circle cx="484.2" cy="407.75" r="3.6" fill="rgba(255,0,0,0.62)"/>
<circle cx="476.5" cy="407.75" r="5.1" fill="#ff0000"/>
<rect x="525.8" y="422.98" width="14.7" height="20.60" fill="rgba(255,255,255,0.78)" stroke="#000" stroke-width="1.7"/>
<line x1="533.1" y1="422.98" x2="533.1" y2="443.58" stroke="#000" stroke-width="3.6"/>
<circle cx="525.8" cy="433.28" r="3.6" fill="rgba(255,0,0,0.62)"/>
<circle cx="540.5" cy="433.28" r="3.6" fill="rgba(255,0,0,0.62)"/>
<circle cx="540.1" cy="433.28" r="5.1" fill="#ff0000"/>
<line x1="526.1" y1="458.81" x2="547.1" y2="458.81" stroke="#000" stroke-width="1.8" stroke-dasharray="8.2 6.8"/>
<line x1="526.1" y1="453.31" x2="526.1" y2="464.31" stroke="#000" stroke-width="1.8"/>
<line x1="597.0" y1="458.81" x2="575.6" y2="458.81" stroke="#000" stroke-width="1.8" stroke-dasharray="8.2 6.8"/>
<line x1="597.0" y1="453.31" x2="597.0" y2="464.31" stroke="#000" stroke-width="1.8"/>
<rect x="547.1" y="448.51" width="28.5" height="20.60" fill="rgba(255,255,255,0.78)" stroke="#000" stroke-width="1.7"/>
<line x1="561.3" y1="448.51" x2="561.3" y2="469.11" stroke="#000" stroke-width="3.6"/>
<circle cx="526.1" cy="458.81" r="3.6" fill="rgba(255,0,0,0.62)"/>
<circle cx="597.0" cy="458.81" r="3.6" fill="rgba(255,0,0,0.62)"/>
<circle cx="547.1" cy="458.81" r="5.1" fill="#ff0000"/>
<line x1="454.9" y1="484.34" x2="476.2" y2="484.34" stroke="#000" stroke-width="1.8" stroke-dasharray="8.2 6.8"/>
<line x1="454.9" y1="478.84" x2="454.9" y2="489.84" stroke="#000" stroke-width="1.8"/>
<line x1="525.9" y1="484.34" x2="505.0" y2="484.34" stroke="#000" stroke-width="1.8" stroke-dasharray="8.2 6.8"/>
<line x1="525.9" y1="478.84" x2="525.9" y2="489.84" stroke="#000" stroke-width="1.8"/>
<circle cx="440.8" cy="484.34" r="2.3" fill="none" stroke="#000" stroke-width="1.6"/>
<circle cx="448.1" cy="484.34" r="2.3" fill="none" stroke="#000" stroke-width="1.6"/>
<circle cx="533.1" cy="484.34" r="2.3" fill="none" stroke="#000" stroke-width="1.6"/>
<circle cx="540.1" cy="484.34" r="2.3" fill="none" stroke="#000" stroke-width="1.6"/>
<rect x="476.2" y="474.04" width="28.8" height="20.60" fill="rgba(255,255,255,0.78)" stroke="#000" stroke-width="1.7"/>
<line x1="490.4" y1="474.04" x2="490.4" y2="494.64" stroke="#000" stroke-width="3.6"/>
<circle cx="440.8" cy="484.34" r="3.6" fill="rgba(255,0,0,0.62)"/>
<circle cx="540.1" cy="484.34" r="3.6" fill="rgba(255,0,0,0.62)"/>
<circle cx="504.6" cy="484.34" r="5.1" fill="#ff0000"/>
<line x1="554.2" y1="509.87" x2="575.5" y2="509.87" stroke="#000" stroke-width="1.8" stroke-dasharray="8.2 6.8"/>
<line x1="554.2" y1="504.37" x2="554.2" y2="515.37" stroke="#000" stroke-width="1.8"/>
<line x1="625.3" y1="509.87" x2="604.3" y2="509.87" stroke="#000" stroke-width="1.8" stroke-dasharray="8.2 6.8"/>
<line x1="625.3" y1="504.37" x2="625.3" y2="515.37" stroke="#000" stroke-width="1.8"/>
<circle cx="525.8" cy="509.87" r="2.3" fill="none" stroke="#000" stroke-width="1.6"/>
<circle cx="533.1" cy="509.87" r="2.3" fill="none" stroke="#000" stroke-width="1.6"/>
<circle cx="540.1" cy="509.87" r="2.3" fill="none" stroke="#000" stroke-width="1.6"/>
<circle cx="547.0" cy="509.87" r="2.3" fill="none" stroke="#000" stroke-width="1.6"/>
<circle cx="632.3" cy="509.87" r="2.3" fill="none" stroke="#000" stroke-width="1.6"/>
<circle cx="639.2" cy="509.87" r="2.3" fill="none" stroke="#000" stroke-width="1.6"/>
<circle cx="646.5" cy="509.87" r="2.3" fill="none" stroke="#000" stroke-width="1.6"/>
<circle cx="653.7" cy="509.87" r="2.3" fill="none" stroke="#000" stroke-width="1.6"/>
<rect x="575.5" y="499.57" width="28.8" height="20.60" fill="rgba(255,255,255,0.78)" stroke="#000" stroke-width="1.7"/>
<line x1="589.8" y1="499.57" x2="589.8" y2="520.17" stroke="#000" stroke-width="3.6"/>
<circle cx="533.1" cy="509.87" r="3.6" fill="rgba(255,0,0,0.62)"/>
<circle cx="646.5" cy="509.87" r="3.6" fill="rgba(255,0,0,0.62)"/>
<circle cx="596.8" cy="509.87" r="5.1" fill="#ff0000"/>
<line x1="533.1" y1="535.40" x2="540.2" y2="535.40" stroke="#000" stroke-width="1.8" stroke-dasharray="8.2 6.8"/>
<line x1="533.1" y1="529.90" x2="533.1" y2="540.90" stroke="#000" stroke-width="1.8"/>
<line x1="561.2" y1="535.40" x2="554.1" y2="535.40" stroke="#000" stroke-width="1.8" stroke-dasharray="8.2 6.8"/>
<line x1="561.2" y1="529.90" x2="561.2" y2="540.90" stroke="#000" stroke-width="1.8"/>
<circle cx="525.8" cy="535.40" r="2.3" fill="none" stroke="#000" stroke-width="1.6"/>
<circle cx="568.4" cy="535.40" r="2.3" fill="none" stroke="#000" stroke-width="1.6"/>
<rect x="540.2" y="525.10" width="13.9" height="20.60" fill="rgba(255,255,255,0.78)" stroke="#000" stroke-width="1.7"/>
<line x1="547.0" y1="525.10" x2="547.0" y2="545.70" stroke="#000" stroke-width="3.6"/>
<circle cx="525.8" cy="535.40" r="3.6" fill="rgba(255,0,0,0.62)"/>
<circle cx="568.4" cy="535.40" r="3.6" fill="rgba(255,0,0,0.62)"/>
<circle cx="547.0" cy="535.40" r="5.1" fill="#ff0000"/>
<rect x="610.7" y="550.63" width="15.0" height="20.60" fill="rgba(255,255,255,0.78)" stroke="#000" stroke-width="1.7"/>
<line x1="618.1" y1="550.63" x2="618.1" y2="571.23" stroke="#000" stroke-width="3.6"/>
<circle cx="611.1" cy="560.93" r="3.6" fill="rgba(255,0,0,0.62)"/>
<circle cx="625.4" cy="560.93" r="3.6" fill="rgba(255,0,0,0.62)"/>
<circle cx="611.1" cy="560.93" r="5.1" fill="#ff0000"/>
<rect x="582.3" y="576.16" width="15.2" height="20.60" fill="rgba(255,255,255,0.78)" stroke="#000" stroke-width="1.7"/>
<line x1="589.9" y1="576.16" x2="589.9" y2="596.76" stroke="#000" stroke-width="3.6"/>
<circle cx="581.9" cy="586.46" r="3.6" fill="rgba(255,0,0,0.62)"/>
<circle cx="597.7" cy="586.46" r="3.6" fill="rgba(255,0,0,0.62)"/>
<circle cx="589.9" cy="586.46" r="5.1" fill="#ff0000"/>
<line x1="553.00" y1="594.10" x2="553.00" y2="387.50" stroke="#dc2c34" stroke-width="2.3" stroke-dasharray="8.6 6.6"/>
</g>
<rect x="432.50" y="387.50" width="229.60" height="206.60" fill="none" stroke="#000" stroke-width="1.5"/>
<line x1="420.50" y1="407.75" x2="432.50" y2="407.75" stroke="#000" stroke-width="1.5"/>
<text x="410.00" y="414.55" text-anchor="end" class="lab">ARM12</text>
<line x1="420.50" y1="433.28" x2="432.50" y2="433.28" stroke="#000" stroke-width="1.5"/>
<text x="410.00" y="440.08" text-anchor="end" class="lab">ARM08</text>
<line x1="420.50" y1="458.81" x2="432.50" y2="458.81" stroke="#000" stroke-width="1.5"/>
<text x="410.00" y="465.61" text-anchor="end" class="lab">ARM06</text>
<line x1="420.50" y1="484.34" x2="432.50" y2="484.34" stroke="#000" stroke-width="1.5"/>
<text x="410.00" y="491.14" text-anchor="end" class="lab">ARM05</text>
<line x1="420.50" y1="509.87" x2="432.50" y2="509.87" stroke="#000" stroke-width="1.5"/>
<text x="410.00" y="516.67" text-anchor="end" class="lab">ARM04</text>
<line x1="420.50" y1="535.40" x2="432.50" y2="535.40" stroke="#000" stroke-width="1.5"/>
<text x="410.00" y="542.20" text-anchor="end" class="lab">ARM03</text>
<line x1="420.50" y1="560.93" x2="432.50" y2="560.93" stroke="#000" stroke-width="1.5"/>
<text x="410.00" y="567.73" text-anchor="end" class="lab">ARM02</text>
<line x1="420.50" y1="586.46" x2="432.50" y2="586.46" stroke="#000" stroke-width="1.5"/>
<text x="410.00" y="593.26" text-anchor="end" class="lab">ARM01</text>
<line x1="433.90" y1="594.10" x2="433.90" y2="605.70" stroke="#000" stroke-width="1.5"/>
<text x="433.90" y="635.40" text-anchor="middle" class="lab">1</text>
<line x1="490.60" y1="594.10" x2="490.60" y2="605.70" stroke="#000" stroke-width="1.5"/>
<text x="490.60" y="635.40" text-anchor="middle" class="lab">2</text>
<line x1="547.30" y1="594.10" x2="547.30" y2="605.70" stroke="#000" stroke-width="1.5"/>
<text x="547.30" y="635.40" text-anchor="middle" class="lab">3</text>
<line x1="604.00" y1="594.10" x2="604.00" y2="605.70" stroke="#000" stroke-width="1.5"/>
<text x="604.00" y="635.40" text-anchor="middle" class="lab">4</text>
<line x1="660.70" y1="594.10" x2="660.70" y2="605.70" stroke="#000" stroke-width="1.5"/>
<text x="660.70" y="635.40" text-anchor="middle" class="lab">5</text>
<text transform="translate(547.30,361.75) scale(1,1.04)" text-anchor="middle" class="ttl">Rugosity</text>
<text transform="translate(648.60,431.80) scale(1,1.08)" text-anchor="end" class="let">D</text>
</svg></body></html>
